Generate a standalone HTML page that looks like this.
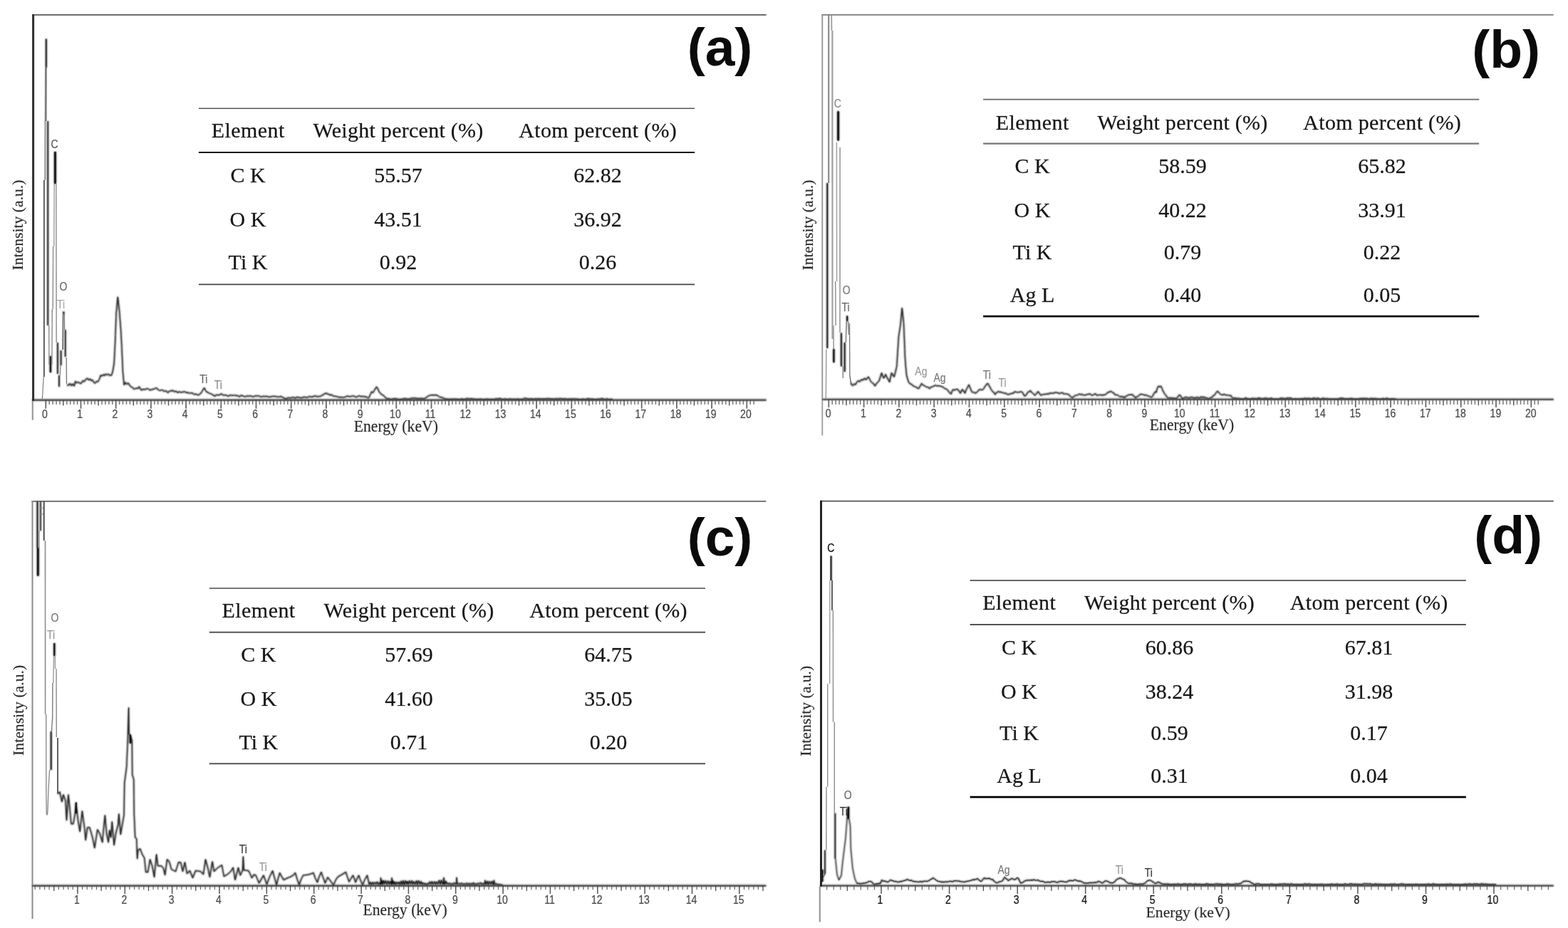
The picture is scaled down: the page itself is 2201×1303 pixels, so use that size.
<!DOCTYPE html>
<html lang="en">
<head>
<meta charset="utf-8">
<title>EDS spectra (a)-(d)</title>
<style>
html,body{margin:0;padding:0;background:#fff;}
body{width:2201px;height:1303px;overflow:hidden;position:relative;}
svg{display:block;position:absolute;left:0;top:0;}
text{white-space:pre;}
</style>
</head>
<body>
<svg width="2201" height="1303" viewBox="0 0 2201 1303">
<defs><filter id="soft" x="0" y="0" width="2201" height="1303" filterUnits="userSpaceOnUse"><feGaussianBlur stdDeviation="0.8"/></filter></defs>
<rect x="0" y="0" width="2201" height="1303" fill="#ffffff"/>
<g class="panel panel-a">
<g class="plot" filter="url(#soft)">
<g class="spectrum" fill="none" stroke-linejoin="round" stroke-linecap="butt">
<polyline points="64.8,95 64.8,54.5" stroke="#000" stroke-width="2"/>
<polyline points="67.2,170 67.2,457" stroke="#000" stroke-width="1.8"/>
<polyline points="70.9,500 70.9,523" stroke="#000" stroke-width="2.5"/>
<polyline points="77.4,213 77.4,258" stroke="#000" stroke-width="3"/>
<polyline points="80.9,481 80.9,525" stroke="#000" stroke-width="1.8"/>
<polyline points="83,527 83,543" stroke="#000" stroke-width="1.8"/>
<polyline points="85.6,513 85.6,492" stroke="#000" stroke-width="1.8"/>
<polyline points="88.6,440 89.3,438 90.2,441" stroke="#000" stroke-width="1.8"/>
<polyline points="91.7,463 91.7,501" stroke="#000" stroke-width="1.8"/>
</g>
<polyline class="spectrum-soft" points="93.8,540.4 94.9,540.9 96,541 98,538.5 100,541.5 102,539 103.1,540.9 104.2,542 105.8,535.3 106.9,536.8 108,537.5 110,536.5 112,538 113.2,538.6 114.3,537.9 116,534.5 118,536 120,533 121.3,532.4 122.7,531.1 124.5,533.5 126.5,532 128,534.5 130,533.5 131.5,536.5 132.6,537.8 133.7,537.9 135.5,535.5 137.5,536 139.6,532 141.3,526.9 143,528 145,526 146.5,527.5 148,525.2 150,526.5 152,525 154,527.5 155.2,526.5 156.5,526.9 158.2,521.8 160.2,510 161.6,481.3 163.2,439.1 165.3,417.1 167.5,435.7 169.7,464.4 170.8,484.7 172.5,523.5 174.2,540.4 176,537 178,539.5 180.1,537.9 182,541 183.5,542.9 184.8,543.4 186,544 187.3,545.8 188.6,546.3 189.8,545.9 191,545 193,545.5 194.2,544.8 195.3,542.9 197,546 198.7,548 199.8,546.7 201,546.5 202.5,546.7 204,547 205.2,545.9 206.5,545.5 207.7,546 208.8,546.3 209.9,547.3 211,548 212.5,546.8 214,547 215.5,546.1 217,546 218.4,545 219.8,544.6 220.9,546.4 222,547 223.5,548.1 225,548.5 226.5,547.5 228,547.5 229.5,548.9 231,549.5 232.2,548.7 233.5,549 234.7,550.4 235.8,551.4 236.9,549.9 238,549.5 239.2,548.5 240.5,549 242.6,548 243.8,549.6 245,550 246.2,549.3 247.5,549.5 249.4,551.4 250.7,550.3 252,550 253.5,551 255,550.5 256.5,550.7 258,549.8 259.5,550.1 261,551 262.2,551.7 263.5,551 264.9,551.7 266.2,552.2 267.6,552.1 269,551.5 270.5,552.1 272,553.5 273.5,553.9 275,553 276.5,554.1 278,554.7 279.2,554.5 280.5,553 281.8,552.3 283.1,550.5 285,547 286.8,544.6 288.5,548 289.9,550.5 290.9,550.4 292,551 294,552.5 295.3,552.6 296.6,553.1 297.8,553.5 299,555 300.4,555.2 301.7,556.4 302.9,554.8 304,554.5 305.5,554.5 307,555 308.6,554.2 310.1,553.1 311.6,553.3 313,555 314.5,555 316,554.5 317.4,554.9 318.9,555.5 320.3,556.4 321.6,555.9 323,554.5 324.5,555 326,555.5 327.5,555.1 328.9,555.1 330.4,555 331.9,555.8 333.5,555.3 335,556.5 336.7,556.9 338.3,555.1 340,555.5 341.7,556.3 343.3,556.9 345,556.8 346.7,555.7 348.3,556.6 350,555.8 352,556 354,556.7 356,557 358,555.9 360,555.7 362,556 364,555.9 366,557.3 368,557 370,556.3 372,556.9 374,556.2 376,557.1 378,557.4 380,557 382,556.6 384,556.4 386,556.5 388,556.8 390,557.4 392,557.2 393.8,556.5 395.6,557 396.8,558.1 398,558.5 399.5,559.3 401,559.8 402.5,559.6 404.2,558.4 406,558.5 408,558.9 410,558 412,557.9 414,559 416,558 418,557.5 420,558.2 422,558.5 424,558.6 426,557.5 428,557.5 430,558 432,557.9 434,556.5 436,557.1 438,557.5 440,556.5 442,556 444,556.3 446,557.2 448,556.4 450,556.5 451.5,555.1 453,555 454.2,553.5 455.5,553 456.6,552.7 457.8,551.8 458.9,553.1 460,553 461.5,553.5 463,555 464.5,554.1 466,554.5 467.2,556 468.5,556.1 470.2,556.4 472,556.5 474,557.1 476,558 478,557.6 480,558 482,557.9 484,557.5 485.5,557.2 487,556 489,556.4 491,557 493,556.4 495,556 497,556.1 499,557.5 501,557.4 503,556 505,555.8 507,557 508.5,556.6 510,556.3 511.5,557.2 513,557 514.5,557.2 516,558.5 517.1,558.5 518.2,557.8 520,553.5 521.6,550 522.8,551.2 524,551 526,547 527.2,545.3 528.5,543.2 530.5,546 532,550 533.7,551.8 534.9,553.3 536,554 537.9,554.9 539.8,557 540.9,557.9 542,559 544,560 546,559.5 548,560.4 550,560.2 552,559.7 554,559.7 556,559.5 558,560.4 560,560.4 562,560.3 564,560.4 566,559.7 568,559.5 570,559.6 572,560.2 574,560 576,559.6 578,559 580,559 582,559.1 584,559 586,559.8 588,559.3 590,560 592,559 594,559.9 596,559.5 597.5,558.7 599,557.5 600.9,556.3 602.8,555.2 604.5,554.9 606.3,554.5 608,555 609.7,554.5 611.3,555 613,554.4 614.2,555.8 615.5,556 617.5,557.8 619.2,557.7 621,558 622.5,559.2 624,559.5 625.5,560.2 627,560 628.9,560.3 630.7,560.3 632.6,560.4 634.4,560 636.3,560.4 638.1,559.9 640,560.3 642,560.2 644,560.4 646,560.4 648,559.8 650,560.4 652,560.2 654,560.1 656,559.2 658,559.9 660,559.8 662,559.5 664,560.2 666,559.9 668,560.4 670,560.3 672,560.4 674,559.9 676,560.4 678,560.4 680,560.3 682,560.4 684,560 686,560.4 688,560.4 690,560.3 692,560.4 694,560.4 696,559.8 698,559.8 700,559.7 702,559.2 704,560.3 706,560.4 708,559.9 710,560.2 712,560.3 714,560.4 716,559.6 718,560.4 720,560.2 722,560.3 724,560.4 726,560 728,560.2 730,560.4 732,560.2 734,560.3 736,559.2 738,559.3 740,559.8 742,559.8 744,560.1 746,559.5 748,560.3 750,560.2 752,559.4 754,560.1 756,559.8 758,559.6 760,560.3 762,559.7 764,559.9 766,559.7 768,559.6 770,559.4 772,559.9 774,559.8 776,560.1 778,560 780,559.8 782,559.5 784,560.4 786,559.2 788,559.9 790,559.7 792,560 794,559.6 796,560.4 798,560.1 800,560.3 802,559.6 804,560.4 806,559.6 808,560.3 810,560 812,560.3 814,560.4 816,560.4 818,560 820,560.4 822,560.3 824,559.9 826,559.5 828,560.2 830,560 832,560.1 834,560.4 836,560.4 838,560.3 840,559.9 842,560.4 844,559.4 846,559.6 848,560.3 850,560.4 852,559.8 854,560.4 856,560.4 858,560.2 860,560.4" fill="none" stroke-linejoin="round" stroke="#0a0a0a" stroke-width="1.5"/>
<g class="axis">
<line x1="45.1" y1="561.6" x2="1075.6" y2="561.6" stroke="#5a5a5a" stroke-width="2.6"/>
</g>
</g>
<g class="frame">
<line x1="45.1" y1="20.8" x2="1075.6" y2="20.8" stroke="#5a5a5a" stroke-width="1.8"/>
<line x1="46.6" y1="19.9" x2="46.6" y2="562.9" stroke="#2e2e2e" stroke-width="3.0"/>
<line x1="45.8" y1="562.9" x2="45.8" y2="589.7" stroke="#9a9a9a" stroke-width="2.2"/>
</g>
<g class="ticks"><path d="M69.2 561.6V568.1M74.1 561.6V568.1M79.1 561.6V568.1M84 561.6V568.1M93.8 561.6V568.1M98.7 561.6V568.1M103.7 561.6V568.1M108.6 561.6V568.1M118.4 561.6V568.1M123.3 561.6V568.1M128.3 561.6V568.1M133.2 561.6V568.1M143 561.6V568.1M147.9 561.6V568.1M152.9 561.6V568.1M157.8 561.6V568.1M167.6 561.6V568.1M172.5 561.6V568.1M177.5 561.6V568.1M182.4 561.6V568.1M192.2 561.6V568.1M197.1 561.6V568.1M202.1 561.6V568.1M207 561.6V568.1M216.8 561.6V568.1M221.7 561.6V568.1M226.7 561.6V568.1M231.6 561.6V568.1M241.4 561.6V568.1M246.3 561.6V568.1M251.3 561.6V568.1M256.2 561.6V568.1M266 561.6V568.1M270.9 561.6V568.1M275.9 561.6V568.1M280.8 561.6V568.1M290.6 561.6V568.1M295.5 561.6V568.1M300.5 561.6V568.1M305.4 561.6V568.1M315.2 561.6V568.1M320.1 561.6V568.1M325.1 561.6V568.1M330 561.6V568.1M339.8 561.6V568.1M344.7 561.6V568.1M349.7 561.6V568.1M354.6 561.6V568.1M364.4 561.6V568.1M369.3 561.6V568.1M374.3 561.6V568.1M379.2 561.6V568.1M389 561.6V568.1M393.9 561.6V568.1M398.9 561.6V568.1M403.8 561.6V568.1M413.6 561.6V568.1M418.5 561.6V568.1M423.5 561.6V568.1M428.4 561.6V568.1M438.2 561.6V568.1M443.1 561.6V568.1M448.1 561.6V568.1M453 561.6V568.1M462.8 561.6V568.1M467.7 561.6V568.1M472.7 561.6V568.1M477.6 561.6V568.1M487.4 561.6V568.1M492.3 561.6V568.1M497.3 561.6V568.1M502.2 561.6V568.1M512 561.6V568.1M516.9 561.6V568.1M521.9 561.6V568.1M526.8 561.6V568.1M536.6 561.6V568.1M541.5 561.6V568.1M546.5 561.6V568.1M551.4 561.6V568.1M561.2 561.6V568.1M566.1 561.6V568.1M571.1 561.6V568.1M576 561.6V568.1M585.8 561.6V568.1M590.7 561.6V568.1M595.7 561.6V568.1M600.6 561.6V568.1M610.4 561.6V568.1M615.3 561.6V568.1M620.3 561.6V568.1M625.2 561.6V568.1M635 561.6V568.1M639.9 561.6V568.1M644.9 561.6V568.1M649.8 561.6V568.1M659.6 561.6V568.1M664.5 561.6V568.1M669.5 561.6V568.1M674.4 561.6V568.1M684.2 561.6V568.1M689.1 561.6V568.1M694.1 561.6V568.1M699 561.6V568.1M708.8 561.6V568.1M713.7 561.6V568.1M718.7 561.6V568.1M723.6 561.6V568.1M733.4 561.6V568.1M738.3 561.6V568.1M743.3 561.6V568.1M748.2 561.6V568.1M758 561.6V568.1M762.9 561.6V568.1M767.9 561.6V568.1M772.8 561.6V568.1M782.6 561.6V568.1M787.5 561.6V568.1M792.5 561.6V568.1M797.4 561.6V568.1M807.2 561.6V568.1M812.1 561.6V568.1M817.1 561.6V568.1M822 561.6V568.1M831.8 561.6V568.1M836.7 561.6V568.1M841.7 561.6V568.1M846.6 561.6V568.1M856.4 561.6V568.1M861.3 561.6V568.1M866.3 561.6V568.1M871.2 561.6V568.1M881 561.6V568.1M885.9 561.6V568.1M890.9 561.6V568.1M895.8 561.6V568.1M905.6 561.6V568.1M910.5 561.6V568.1M915.5 561.6V568.1M920.4 561.6V568.1M930.2 561.6V568.1M935.1 561.6V568.1M940.1 561.6V568.1M945 561.6V568.1M954.8 561.6V568.1M959.7 561.6V568.1M964.7 561.6V568.1M969.6 561.6V568.1M979.4 561.6V568.1M984.3 561.6V568.1M989.3 561.6V568.1M994.2 561.6V568.1M1004 561.6V568.1M1008.9 561.6V568.1M1013.9 561.6V568.1M1018.8 561.6V568.1M1028.6 561.6V568.1M1033.5 561.6V568.1M1038.5 561.6V568.1M1043.4 561.6V568.1M1053.2 561.6V568.1M1058.1 561.6V568.1" stroke="#7a7a7a" stroke-width="1.5" fill="none"/><path d="M88.9 561.6V569.5M138.1 561.6V569.5M187.3 561.6V569.5M236.5 561.6V569.5M285.7 561.6V569.5M334.9 561.6V569.5M384.1 561.6V569.5M433.3 561.6V569.5M482.5 561.6V569.5M531.7 561.6V569.5M580.9 561.6V569.5M630.1 561.6V569.5M679.3 561.6V569.5M728.5 561.6V569.5M777.7 561.6V569.5M826.9 561.6V569.5M876.1 561.6V569.5M925.3 561.6V569.5M974.5 561.6V569.5M1023.7 561.6V569.5" stroke="#5a5a5a" stroke-width="1.5" fill="none"/><path d="M64.3 561.6V573.8M113.5 561.6V573.8M162.7 561.6V573.8M211.9 561.6V573.8M261.1 561.6V573.8M310.3 561.6V573.8M359.5 561.6V573.8M408.7 561.6V573.8M457.9 561.6V573.8M507.1 561.6V573.8M556.3 561.6V573.8M605.5 561.6V573.8M654.7 561.6V573.8M703.9 561.6V573.8M753.1 561.6V573.8M802.3 561.6V573.8M851.5 561.6V573.8M900.7 561.6V573.8M949.9 561.6V573.8M999.1 561.6V573.8M1048.3 561.6V573.8" stroke="#6a6a6a" stroke-width="1.8" fill="none"/></g>
<polyline points="59.4,560 60.3,545 61.2,529" fill="none" stroke-linejoin="round" stroke="#7d7d7d" stroke-width="1.2"/>
<polyline points="61.9,529 61.9,253" fill="none" stroke-linejoin="round" stroke="#3e3e3e" stroke-width="1.6"/>
<polyline points="63.3,253 63.5,170" fill="none" stroke-linejoin="round" stroke="#9c9c9c" stroke-width="2.2"/>
<polyline points="64.2,170 64.4,95" fill="none" stroke-linejoin="round" stroke="#7e7e7e" stroke-width="2.9"/>
<polyline points="64.8,95 64.8,54.5" fill="none" stroke-linejoin="round" stroke="#000" stroke-opacity="0.7" stroke-width="1.1"/>
<polyline points="67.2,170 67.2,457" fill="none" stroke-linejoin="round" stroke="#000" stroke-opacity="0.7" stroke-width="0.9"/>
<polyline points="68.7,457 68.9,512" fill="none" stroke-linejoin="round" stroke="#8c8c8c" stroke-width="1.4"/>
<polyline points="70.9,500 70.9,523" fill="none" stroke-linejoin="round" stroke="#000" stroke-opacity="0.7" stroke-width="1.6"/>
<polyline points="72.9,512 73.3,434" fill="none" stroke-linejoin="round" stroke="#8c8c8c" stroke-width="1.4"/>
<polyline points="74.2,434 74.6,346" fill="none" stroke-linejoin="round" stroke="#8c8c8c" stroke-width="1.4"/>
<polyline points="75.8,346 76.2,258" fill="none" stroke-linejoin="round" stroke="#9c9c9c" stroke-width="1.4"/>
<polyline points="77.4,213 77.4,258" fill="none" stroke-linejoin="round" stroke="#000" stroke-opacity="0.7" stroke-width="2.1"/>
<polyline points="78.8,258 79.2,481" fill="none" stroke-linejoin="round" stroke="#8c8c8c" stroke-width="1.4"/>
<polyline points="80.9,481 80.9,525" fill="none" stroke-linejoin="round" stroke="#000" stroke-opacity="0.7" stroke-width="0.9"/>
<polyline points="83,527 83,543" fill="none" stroke-linejoin="round" stroke="#000" stroke-opacity="0.7" stroke-width="0.9"/>
<polyline points="84.3,527 85,513" fill="none" stroke-linejoin="round" stroke="#7d7d7d" stroke-width="1.2"/>
<polyline points="85.6,513 85.6,492" fill="none" stroke-linejoin="round" stroke="#000" stroke-opacity="0.7" stroke-width="0.9"/>
<polyline points="88.1,491 88.6,440" fill="none" stroke-linejoin="round" stroke="#6d6d6d" stroke-width="1.8"/>
<polyline points="88.6,440 89.3,438 90.2,441" fill="none" stroke-linejoin="round" stroke="#000" stroke-opacity="0.4" stroke-width="0.9"/>
<polyline points="90.3,441 90.6,463" fill="none" stroke-linejoin="round" stroke="#7d7d7d" stroke-width="1.4"/>
<polyline points="91.7,463 91.7,501" fill="none" stroke-linejoin="round" stroke="#000" stroke-opacity="0.7" stroke-width="0.9"/>
<polyline points="93.2,502 93.5,539" fill="none" stroke-linejoin="round" stroke="#7d7d7d" stroke-width="1.4"/>
<polyline class="spectrum-core" points="93.8,540.4 94.9,540.9 96,541 98,538.5 100,541.5 102,539 103.1,540.9 104.2,542 105.8,535.3 106.9,536.8 108,537.5 110,536.5 112,538 113.2,538.6 114.3,537.9 116,534.5 118,536 120,533 121.3,532.4 122.7,531.1 124.5,533.5 126.5,532 128,534.5 130,533.5 131.5,536.5 132.6,537.8 133.7,537.9 135.5,535.5 137.5,536 139.6,532 141.3,526.9 143,528 145,526 146.5,527.5 148,525.2 150,526.5 152,525 154,527.5 155.2,526.5 156.5,526.9 158.2,521.8 160.2,510 161.6,481.3 163.2,439.1 165.3,417.1 167.5,435.7 169.7,464.4 170.8,484.7 172.5,523.5 174.2,540.4 176,537 178,539.5 180.1,537.9 182,541 183.5,542.9 184.8,543.4 186,544 187.3,545.8 188.6,546.3 189.8,545.9 191,545 193,545.5 194.2,544.8 195.3,542.9 197,546 198.7,548 199.8,546.7 201,546.5 202.5,546.7 204,547 205.2,545.9 206.5,545.5 207.7,546 208.8,546.3 209.9,547.3 211,548 212.5,546.8 214,547 215.5,546.1 217,546 218.4,545 219.8,544.6 220.9,546.4 222,547 223.5,548.1 225,548.5 226.5,547.5 228,547.5 229.5,548.9 231,549.5 232.2,548.7 233.5,549 234.7,550.4 235.8,551.4 236.9,549.9 238,549.5 239.2,548.5 240.5,549 242.6,548 243.8,549.6 245,550 246.2,549.3 247.5,549.5 249.4,551.4 250.7,550.3 252,550 253.5,551 255,550.5 256.5,550.7 258,549.8 259.5,550.1 261,551 262.2,551.7 263.5,551 264.9,551.7 266.2,552.2 267.6,552.1 269,551.5 270.5,552.1 272,553.5 273.5,553.9 275,553 276.5,554.1 278,554.7 279.2,554.5 280.5,553 281.8,552.3 283.1,550.5 285,547 286.8,544.6 288.5,548 289.9,550.5 290.9,550.4 292,551 294,552.5 295.3,552.6 296.6,553.1 297.8,553.5 299,555 300.4,555.2 301.7,556.4 302.9,554.8 304,554.5 305.5,554.5 307,555 308.6,554.2 310.1,553.1 311.6,553.3 313,555 314.5,555 316,554.5 317.4,554.9 318.9,555.5 320.3,556.4 321.6,555.9 323,554.5 324.5,555 326,555.5 327.5,555.1 328.9,555.1 330.4,555 331.9,555.8 333.5,555.3 335,556.5 336.7,556.9 338.3,555.1 340,555.5 341.7,556.3 343.3,556.9 345,556.8 346.7,555.7 348.3,556.6 350,555.8 352,556 354,556.7 356,557 358,555.9 360,555.7 362,556 364,555.9 366,557.3 368,557 370,556.3 372,556.9 374,556.2 376,557.1 378,557.4 380,557 382,556.6 384,556.4 386,556.5 388,556.8 390,557.4 392,557.2 393.8,556.5 395.6,557 396.8,558.1 398,558.5 399.5,559.3 401,559.8 402.5,559.6 404.2,558.4 406,558.5 408,558.9 410,558 412,557.9 414,559 416,558 418,557.5 420,558.2 422,558.5 424,558.6 426,557.5 428,557.5 430,558 432,557.9 434,556.5 436,557.1 438,557.5 440,556.5 442,556 444,556.3 446,557.2 448,556.4 450,556.5 451.5,555.1 453,555 454.2,553.5 455.5,553 456.6,552.7 457.8,551.8 458.9,553.1 460,553 461.5,553.5 463,555 464.5,554.1 466,554.5 467.2,556 468.5,556.1 470.2,556.4 472,556.5 474,557.1 476,558 478,557.6 480,558 482,557.9 484,557.5 485.5,557.2 487,556 489,556.4 491,557 493,556.4 495,556 497,556.1 499,557.5 501,557.4 503,556 505,555.8 507,557 508.5,556.6 510,556.3 511.5,557.2 513,557 514.5,557.2 516,558.5 517.1,558.5 518.2,557.8 520,553.5 521.6,550 522.8,551.2 524,551 526,547 527.2,545.3 528.5,543.2 530.5,546 532,550 533.7,551.8 534.9,553.3 536,554 537.9,554.9 539.8,557 540.9,557.9 542,559 544,560 546,559.5 548,560.4 550,560.2 552,559.7 554,559.7 556,559.5 558,560.4 560,560.4 562,560.3 564,560.4 566,559.7 568,559.5 570,559.6 572,560.2 574,560 576,559.6 578,559 580,559 582,559.1 584,559 586,559.8 588,559.3 590,560 592,559 594,559.9 596,559.5 597.5,558.7 599,557.5 600.9,556.3 602.8,555.2 604.5,554.9 606.3,554.5 608,555 609.7,554.5 611.3,555 613,554.4 614.2,555.8 615.5,556 617.5,557.8 619.2,557.7 621,558 622.5,559.2 624,559.5 625.5,560.2 627,560 628.9,560.3 630.7,560.3 632.6,560.4 634.4,560 636.3,560.4 638.1,559.9 640,560.3 642,560.2 644,560.4 646,560.4 648,559.8 650,560.4 652,560.2 654,560.1 656,559.2 658,559.9 660,559.8 662,559.5 664,560.2 666,559.9 668,560.4 670,560.3 672,560.4 674,559.9 676,560.4 678,560.4 680,560.3 682,560.4 684,560 686,560.4 688,560.4 690,560.3 692,560.4 694,560.4 696,559.8 698,559.8 700,559.7 702,559.2 704,560.3 706,560.4 708,559.9 710,560.2 712,560.3 714,560.4 716,559.6 718,560.4 720,560.2 722,560.3 724,560.4 726,560 728,560.2 730,560.4 732,560.2 734,560.3 736,559.2 738,559.3 740,559.8 742,559.8 744,560.1 746,559.5 748,560.3 750,560.2 752,559.4 754,560.1 756,559.8 758,559.6 760,560.3 762,559.7 764,559.9 766,559.7 768,559.6 770,559.4 772,559.9 774,559.8 776,560.1 778,560 780,559.8 782,559.5 784,560.4 786,559.2 788,559.9 790,559.7 792,560 794,559.6 796,560.4 798,560.1 800,560.3 802,559.6 804,560.4 806,559.6 808,560.3 810,560 812,560.3 814,560.4 816,560.4 818,560 820,560.4 822,560.3 824,559.9 826,559.5 828,560.2 830,560 832,560.1 834,560.4 836,560.4 838,560.3 840,559.9 842,560.4 844,559.4 846,559.6 848,560.3 850,560.4 852,559.8 854,560.4 856,560.4 858,560.2 860,560.4" fill="none" stroke-linejoin="round" stroke="#000" stroke-opacity="0.45" stroke-width="0.9"/>
<line x1="45.1" y1="561.9" x2="1075.6" y2="561.9" stroke="#222" stroke-width="1.0" stroke-opacity="0.8"/>
<g class="ticklabels" font-family='"Liberation Sans", "DejaVu Sans", sans-serif' font-size="14" fill="#4a4a4a" stroke="#4a4a4a" stroke-opacity="0.35" stroke-width="0.6" text-anchor="middle">
<text transform="translate(62.9 587.3) scale(1 1.15)">0</text>
<text transform="translate(112.1 587.3) scale(1 1.15)">1</text>
<text transform="translate(161.3 587.3) scale(1 1.15)">2</text>
<text transform="translate(210.5 587.3) scale(1 1.15)">3</text>
<text transform="translate(259.7 587.3) scale(1 1.15)">4</text>
<text transform="translate(308.9 587.3) scale(1 1.15)">5</text>
<text transform="translate(358.1 587.3) scale(1 1.15)">6</text>
<text transform="translate(407.3 587.3) scale(1 1.15)">7</text>
<text transform="translate(456.5 587.3) scale(1 1.15)">8</text>
<text transform="translate(505.7 587.3) scale(1 1.15)">9</text>
<text transform="translate(554.9 587.3) scale(1 1.15)">10</text>
<text transform="translate(604.1 587.3) scale(1 1.15)">11</text>
<text transform="translate(653.3 587.3) scale(1 1.15)">12</text>
<text transform="translate(702.5 587.3) scale(1 1.15)">13</text>
<text transform="translate(751.7 587.3) scale(1 1.15)">14</text>
<text transform="translate(800.9 587.3) scale(1 1.15)">15</text>
<text transform="translate(850.1 587.3) scale(1 1.15)">16</text>
<text transform="translate(899.3 587.3) scale(1 1.15)">17</text>
<text transform="translate(948.5 587.3) scale(1 1.15)">18</text>
<text transform="translate(997.7 587.3) scale(1 1.15)">19</text>
<text transform="translate(1046.9 587.3) scale(1 1.15)">20</text>
</g>
<g class="peaks" font-family='"Liberation Sans", "DejaVu Sans", sans-serif' font-size="14" text-anchor="middle" stroke-width="0.6" stroke-opacity="0.3">
<text transform="translate(76.6 208.4) scale(1 1.12)" fill="#555" stroke="#555">C</text>
<text transform="translate(89 408.4) scale(1 1.12)" fill="#666" stroke="#666">O</text>
<text transform="translate(85.6 432.9) scale(1 1.12)" fill="#aaa" stroke="#aaa">Ti</text>
<text transform="translate(285.7 537.6) scale(1 1.12)" fill="#666" stroke="#666">Ti</text>
<text transform="translate(306.4 545.5) scale(1 1.12)" fill="#888" stroke="#888">Ti</text>
</g>
<text class="xtitle" transform="translate(555.8 606) scale(1 1.07)" font-family='"Liberation Serif", "DejaVu Serif", serif' font-size="21.7" fill="#2a2a2a" stroke="#2a2a2a" stroke-opacity="0.35" stroke-width="0.5" text-anchor="middle">Energy (keV)</text>
<text class="ytitle" transform="translate(31.9 316) rotate(-90)" font-family='"Liberation Serif", "DejaVu Serif", serif' font-size="21.7" fill="#2a2a2a" stroke="#2a2a2a" stroke-opacity="0.35" stroke-width="0.5" text-anchor="middle">Intensity (a.u.)</text>
<text class="letter" x="1010.5" y="91.8" font-family='"Liberation Sans", "DejaVu Sans", sans-serif' font-size="75" font-weight="700" fill="#0a0a0a" text-anchor="middle">(a)</text>
<g class="table">
<line x1="278.9" y1="152.3" x2="975.1" y2="152.3" stroke="#555" stroke-width="1.6"/>
<line x1="278.9" y1="213.9" x2="975.1" y2="213.9" stroke="#111" stroke-width="2.0"/>
<line x1="278.9" y1="399.4" x2="975.1" y2="399.4" stroke="#444" stroke-width="1.6"/>
<g font-family='"Liberation Serif", "DejaVu Serif", serif' font-size="30" fill="#161616" stroke="#161616" stroke-width="0.4" stroke-opacity="0.55" text-anchor="middle">
<text x="348.2" y="193.4" letter-spacing="0.45">Element</text>
<text x="559.1" y="193.4" letter-spacing="0.27">Weight percent (%)</text>
<text x="839.2" y="193.4" letter-spacing="0.32">Atom percent (%)</text>
<text x="348" y="255.8">C K</text>
<text x="559" y="255.8">55.57</text>
<text x="839" y="255.8">62.82</text>
<text x="348" y="318.1">O K</text>
<text x="559" y="318.1">43.51</text>
<text x="839" y="318.1">36.92</text>
<text x="348" y="378.2">Ti K</text>
<text x="559" y="378.2">0.92</text>
<text x="839" y="378.2">0.26</text>
</g></g>
</g>
<g class="panel panel-b">
<g class="plot" filter="url(#soft)">
<g class="spectrum" fill="none" stroke-linejoin="round" stroke-linecap="butt">
<polyline points="1161.3,489 1161.3,257" stroke="#000" stroke-width="2"/>
<polyline points="1170.4,490 1170.4,509" stroke="#000" stroke-width="2.5"/>
<polyline points="1176.6,156.2 1176.6,197.4" stroke="#000" stroke-width="3"/>
<polyline points="1180.9,467.5 1180.9,514.4" stroke="#000" stroke-width="2"/>
<polyline points="1185.7,522 1185.7,481" stroke="#000" stroke-width="2"/>
<polyline points="1189.2,443.5 1189.2,451" stroke="#000" stroke-width="2.4"/>
</g>
<polyline class="spectrum-soft" points="1194.3,536.5 1195.2,540.2 1197,541.5 1198,540.2 1199,539 1200.8,540.2 1202.5,537 1203.5,535.6 1204.5,534.7 1205.5,534.7 1206.5,536 1207.5,535.4 1208.5,533.5 1209.8,532.8 1211,534 1212.3,532.5 1213.7,531 1214.8,532.8 1216,533 1217.6,530.3 1219.2,529.2 1221,533 1222.9,536.5 1224.2,537.4 1225.5,538 1227,540.2 1228.4,542 1229.7,539.1 1231,538 1232.5,536.1 1234,534.7 1235.8,529 1237.6,523.6 1239,528 1240.4,531 1241.8,528.6 1243.1,525.5 1245,530 1246.8,533 1248.7,536.5 1250,530 1251.4,523.6 1253,526 1254,527.5 1255.1,529.2 1257,522 1258.8,514.4 1260,495 1261.5,472.1 1263.8,457.3 1265,445 1266.2,432.5 1267.3,442 1268.5,453.7 1269.5,478 1270.4,501.5 1271.5,516 1272.6,527.3 1274,532 1275.4,536.5 1276.7,538.2 1278,539 1279.9,539.8 1281.8,542 1283.4,542.3 1285,543.5 1286.4,543.5 1287.8,545 1289.2,545.7 1290.3,544.7 1291.5,542 1292.7,540.4 1293.8,538.4 1294.9,540.2 1296,541 1297.2,541.3 1298.4,542 1300,543.2 1301.5,543.5 1303.2,543.8 1304.8,545.7 1306.4,544 1308,543 1309.4,542.7 1310.8,542.2 1312.2,541.1 1314.1,541.4 1316,542 1317.3,541.4 1318.7,541.9 1320,542.5 1321.4,542.4 1322.8,543 1324.2,543.9 1326.1,545.5 1328,546 1329.8,547.2 1331.5,549.5 1333.3,552 1335.2,553.1 1336.5,549 1338,546.7 1339.5,547.8 1341,547.5 1342.7,546.3 1344.4,546.7 1346,549 1347,550.4 1348.1,552.2 1349.5,549 1350.9,546.7 1352.5,549 1353.5,550.6 1354.6,552.2 1355.8,548.2 1357,546 1358.5,543 1360.1,540.2 1362,545 1363.8,549.4 1365.2,551 1366.5,551 1367.9,550.9 1369.3,552.2 1370.9,551 1372.5,549.5 1374.1,547.4 1375.7,546.7 1377.1,547.2 1378.5,547.5 1379.9,546.9 1381.3,544.8 1382.7,542.3 1384,541 1385.4,538.8 1386.8,538.4 1388.5,542 1389.5,543.1 1390.5,545.7 1392,547.9 1393.5,550 1395.2,551.1 1396.9,554 1398,552 1399,551.5 1400.2,550.4 1401.5,549.4 1403,550.7 1404.5,550.3 1406,551 1407.6,551.2 1409.1,552.1 1410.7,552.2 1412.1,552.1 1413.5,553.5 1414.8,553.9 1416.2,554 1417.8,552.7 1419.4,552.9 1421,552 1422.5,552.3 1424,550 1425.5,550.3 1427,550.6 1428.5,551 1430,551 1431.6,550.1 1433.1,550.1 1434.7,550.3 1436.5,553 1437.5,555.4 1438.6,556 1440.3,554.9 1442,552 1443.5,550 1444.9,549.9 1446.4,548.3 1448,551 1449.5,552 1451,553.1 1452.4,555.2 1453.7,554.1 1455,552.5 1456.3,550.4 1457.6,550 1459.5,553 1461.1,555.2 1463,554.1 1465,553.5 1466.7,553.7 1468.3,553.3 1470,553 1471.7,553.4 1473.3,551.9 1475,552.5 1476.7,551.8 1478.4,552.4 1480.1,551.5 1481.8,551 1483.2,551.2 1484.6,551.5 1486,552 1487.3,552.8 1488.7,551.8 1490,551.5 1491.3,551.1 1492.7,553.1 1494,553 1495.7,552.8 1497.3,553.2 1499,553.5 1500.5,554.2 1502,556 1503.5,557.2 1505,558.7 1506.5,557.3 1508,556.5 1509.5,555 1511,555 1512.7,554.7 1514.3,553.2 1516,553.5 1517.3,554.4 1518.7,553.3 1520,554.5 1521.7,554.9 1523.3,554.8 1525,554 1526.3,553.7 1527.7,553.7 1529,553 1530.5,553.3 1532.1,554.9 1533.6,555.2 1535.3,554 1537,553 1538.3,553.2 1539.7,555.2 1541,555 1542.7,554.6 1544.3,554.4 1546,554.5 1547.6,555.2 1549.3,554.2 1550.9,554.4 1552.5,553.5 1554,552 1555.5,550.4 1557.1,550.8 1558.6,549.2 1560.3,549.9 1562,551.5 1563.5,551.6 1564.9,554.3 1566.4,554.4 1568.2,554.3 1570,555.5 1571.3,556.7 1572.7,557.1 1574,556.5 1575.5,557.4 1577,557 1578.5,558.7 1580,556.5 1581.5,556 1583.5,554.6 1585.4,554.4 1586.9,554.1 1588.5,554.3 1590,554 1591.3,556.5 1592.7,556.9 1594,558.7 1595.3,557.1 1596.7,557 1598,556 1599.5,554.5 1601.1,553.5 1602.6,553.5 1604.3,554.1 1606,554.5 1607.3,555.2 1608.7,554.3 1610,555.5 1611.8,555.9 1613.5,556.5 1615,557.5 1616.5,557.8 1617.8,556.4 1619,554 1620.3,551.8 1621.6,550 1623,551 1624.5,545 1626,542.3 1627.7,543 1629.4,542.3 1630.5,543.8 1631.5,546.5 1632.6,549.2 1633.7,551 1635.1,553.5 1636.5,555 1638.2,557.6 1639.8,558.7 1641.5,558.9 1643.3,558.3 1645,559.3 1646.5,558.5 1648,559.5 1649.5,558.9 1651,559.6 1652.2,558.5 1653.5,557 1654.8,554.9 1656.2,554.4 1658,557 1659.6,559.6 1661.1,559.6 1662.5,558 1664,558 1665.3,557.4 1666.7,558.1 1668,559 1669.3,558.4 1670.7,558.1 1672,557.5 1673.3,557.8 1674.7,557.9 1676,559 1677.3,558.5 1678.7,558.8 1680,557.5 1681.3,557.9 1682.7,559 1684,558.5 1685.7,557.1 1687.3,558.4 1689,557 1690.3,558.2 1691.7,558.1 1693,558.5 1694.8,559.1 1696.5,559.6 1698.2,558.9 1700,558 1701.5,557.8 1703,555.3 1704.5,555.2 1705.5,553.9 1706.5,552 1707.7,550.7 1708.8,549.2 1710.2,550.2 1711.5,552 1713.2,553.6 1714.9,554.4 1716.3,554.7 1717.6,553.4 1719,554 1720.3,554.7 1721.7,554.6 1723,555 1724.3,555 1725.7,555.4 1727,555.2 1728,555.5 1729,557.5 1730.4,558.7 1731.9,559 1733.5,558.7 1735,559 1736.5,559.9 1738,558.8 1739.5,559.9 1741,559.6 1742.8,559.9 1744.6,559.7 1746.4,559.9 1748.2,558.5 1750,559.3 1751.7,559.6 1753.3,559.7 1755,559.9 1756.7,559.5 1758.3,558.9 1760,559.8 1761.9,559.2 1763.8,559.9 1765.6,559 1767.5,558.8 1769.4,559.3 1771.2,559.4 1773.1,559.5 1775,559.4 1776.9,558.5 1778.8,559.9 1780.6,559.2 1782.5,559.9 1784.4,558.7 1786.2,559.9 1788.1,559.9 1790,559.8 1791.9,559.9 1793.8,559.9 1795.6,559.9 1797.5,558.8 1799.4,559.2 1801.2,558.9 1803.1,559.9 1805,559.3 1806.9,558.8 1808.8,558.9 1810.6,558.7 1812.5,558.8 1814.4,559.9 1816.2,559.9 1818.1,559.5 1820,559.8 1821.8,559.9 1823.6,559.7 1825.5,559.8 1827.3,559.4 1829.1,559.9 1830.9,559.1 1832.7,559.1 1834.5,559.6 1836.4,559 1838.2,559.4 1840,559.5 1841.8,559.9 1843.6,558.7 1845.5,558.9 1847.3,559.9 1849.1,558.8 1850.9,559.2 1852.7,559.9 1854.5,559.9 1856.4,559.3 1858.2,559 1860,559.9 1861.8,559.4 1863.6,559.4 1865.5,559.9 1867.3,559.9 1869.1,559.9 1870.9,559.9 1872.7,559.9 1874.5,559.9 1876.4,559.9 1878.2,559.9 1880,559.5 1881.8,558.8 1883.6,559.2 1885.5,559.1 1887.3,559.8 1889.1,559.7 1890.9,559.4 1892.7,559.9 1894.5,559.6 1896.4,559.3 1898.2,559.4 1900,559.9 1901.9,559.8 1903.8,559.9 1905.6,559.9 1907.5,559.7 1909.4,559.2 1911.2,559.6 1913.1,559.4 1915,559.1 1916.9,559.8 1918.8,559.1 1920.6,559.9 1922.5,559.9 1924.4,559 1926.2,559.9 1928.1,559.3 1930,559.6 1931.9,559.5 1933.8,559.9 1935.6,559.9 1937.5,559.9 1939.4,559.9 1941.2,559.2 1943.1,559.9 1945,559.5 1946.9,558.9 1948.8,559.9 1950.6,559.8 1952.5,559.9 1954.4,559.6 1956.2,559.9 1958.1,559.9 1960,560" fill="none" stroke-linejoin="round" stroke="#0a0a0a" stroke-width="1.5"/>
<g class="axis">
<line x1="1154.3" y1="560.7" x2="2180.8" y2="560.7" stroke="#5a5a5a" stroke-width="2.6"/>
</g>
</g>
<g class="frame">
<line x1="1153.4" y1="20.9" x2="2180.8" y2="20.9" stroke="#4a4a4a" stroke-width="1.3"/>
<line x1="1154.3" y1="20.2" x2="1154.3" y2="562" stroke="#909090" stroke-width="1.8"/>
<line x1="1154.3" y1="562" x2="1154.3" y2="611.5" stroke="#999" stroke-width="1.8"/>
</g>
<g class="ticks"><path d="M1168.2 560.7V568.1M1173.2 560.7V568.1M1178.1 560.7V568.1M1183 560.7V568.1M1192.9 560.7V568.1M1197.8 560.7V568.1M1202.7 560.7V568.1M1207.7 560.7V568.1M1217.5 560.7V568.1M1222.5 560.7V568.1M1227.4 560.7V568.1M1232.3 560.7V568.1M1242.2 560.7V568.1M1247.1 560.7V568.1M1252 560.7V568.1M1257 560.7V568.1M1266.8 560.7V568.1M1271.8 560.7V568.1M1276.7 560.7V568.1M1281.6 560.7V568.1M1291.5 560.7V568.1M1296.4 560.7V568.1M1301.3 560.7V568.1M1306.3 560.7V568.1M1316.1 560.7V568.1M1321.1 560.7V568.1M1326 560.7V568.1M1330.9 560.7V568.1M1340.8 560.7V568.1M1345.7 560.7V568.1M1350.6 560.7V568.1M1355.6 560.7V568.1M1365.4 560.7V568.1M1370.4 560.7V568.1M1375.3 560.7V568.1M1380.2 560.7V568.1M1390.1 560.7V568.1M1395 560.7V568.1M1399.9 560.7V568.1M1404.9 560.7V568.1M1414.7 560.7V568.1M1419.7 560.7V568.1M1424.6 560.7V568.1M1429.5 560.7V568.1M1439.4 560.7V568.1M1444.3 560.7V568.1M1449.2 560.7V568.1M1454.2 560.7V568.1M1464 560.7V568.1M1469 560.7V568.1M1473.9 560.7V568.1M1478.8 560.7V568.1M1488.7 560.7V568.1M1493.6 560.7V568.1M1498.5 560.7V568.1M1503.5 560.7V568.1M1513.3 560.7V568.1M1518.3 560.7V568.1M1523.2 560.7V568.1M1528.1 560.7V568.1M1538 560.7V568.1M1542.9 560.7V568.1M1547.8 560.7V568.1M1552.8 560.7V568.1M1562.6 560.7V568.1M1567.6 560.7V568.1M1572.5 560.7V568.1M1577.4 560.7V568.1M1587.3 560.7V568.1M1592.2 560.7V568.1M1597.1 560.7V568.1M1602.1 560.7V568.1M1611.9 560.7V568.1M1616.9 560.7V568.1M1621.8 560.7V568.1M1626.7 560.7V568.1M1636.6 560.7V568.1M1641.5 560.7V568.1M1646.4 560.7V568.1M1651.4 560.7V568.1M1661.2 560.7V568.1M1666.2 560.7V568.1M1671.1 560.7V568.1M1676 560.7V568.1M1685.9 560.7V568.1M1690.8 560.7V568.1M1695.7 560.7V568.1M1700.7 560.7V568.1M1710.5 560.7V568.1M1715.5 560.7V568.1M1720.4 560.7V568.1M1725.3 560.7V568.1M1735.2 560.7V568.1M1740.1 560.7V568.1M1745 560.7V568.1M1750 560.7V568.1M1759.8 560.7V568.1M1764.8 560.7V568.1M1769.7 560.7V568.1M1774.6 560.7V568.1M1784.5 560.7V568.1M1789.4 560.7V568.1M1794.3 560.7V568.1M1799.3 560.7V568.1M1809.1 560.7V568.1M1814.1 560.7V568.1M1819 560.7V568.1M1823.9 560.7V568.1M1833.8 560.7V568.1M1838.7 560.7V568.1M1843.6 560.7V568.1M1848.6 560.7V568.1M1858.4 560.7V568.1M1863.4 560.7V568.1M1868.3 560.7V568.1M1873.2 560.7V568.1M1883.1 560.7V568.1M1888 560.7V568.1M1892.9 560.7V568.1M1897.9 560.7V568.1M1907.7 560.7V568.1M1912.7 560.7V568.1M1917.6 560.7V568.1M1922.5 560.7V568.1M1932.4 560.7V568.1M1937.3 560.7V568.1M1942.2 560.7V568.1M1947.2 560.7V568.1M1957 560.7V568.1M1962 560.7V568.1M1966.9 560.7V568.1M1971.8 560.7V568.1M1981.7 560.7V568.1M1986.6 560.7V568.1M1991.5 560.7V568.1M1996.5 560.7V568.1M2006.3 560.7V568.1M2011.3 560.7V568.1M2016.2 560.7V568.1M2021.1 560.7V568.1M2031 560.7V568.1M2035.9 560.7V568.1M2040.8 560.7V568.1M2045.8 560.7V568.1M2055.6 560.7V568.1M2060.6 560.7V568.1M2065.5 560.7V568.1M2070.4 560.7V568.1M2080.3 560.7V568.1M2085.2 560.7V568.1M2090.1 560.7V568.1M2095.1 560.7V568.1M2104.9 560.7V568.1M2109.9 560.7V568.1M2114.8 560.7V568.1M2119.7 560.7V568.1M2129.6 560.7V568.1M2134.5 560.7V568.1M2139.4 560.7V568.1M2144.4 560.7V568.1M2154.2 560.7V568.1M2159.2 560.7V568.1" stroke="#7a7a7a" stroke-width="1.5" fill="none"/><path d="M1188 560.7V569.3M1237.2 560.7V569.3M1286.5 560.7V569.3M1335.8 560.7V569.3M1385.1 560.7V569.3M1434.4 560.7V569.3M1483.8 560.7V569.3M1533 560.7V569.3M1582.3 560.7V569.3M1631.7 560.7V569.3M1680.9 560.7V569.3M1730.2 560.7V569.3M1779.5 560.7V569.3M1828.8 560.7V569.3M1878.2 560.7V569.3M1927.4 560.7V569.3M1976.8 560.7V569.3M2026 560.7V569.3M2075.3 560.7V569.3M2124.7 560.7V569.3" stroke="#5a5a5a" stroke-width="1.5" fill="none"/><path d="M1163.3 560.7V572M1212.6 560.7V572M1261.9 560.7V572M1311.2 560.7V572M1360.5 560.7V572M1409.8 560.7V572M1459.1 560.7V572M1508.4 560.7V572M1557.7 560.7V572M1607 560.7V572M1656.3 560.7V572M1705.6 560.7V572M1754.9 560.7V572M1804.2 560.7V572M1853.5 560.7V572M1902.8 560.7V572M1952.1 560.7V572M2001.4 560.7V572M2050.7 560.7V572M2100 560.7V572M2149.3 560.7V572" stroke="#6a6a6a" stroke-width="1.8" fill="none"/></g>
<polyline points="1159.3,559.6 1159.9,490.5" fill="none" stroke-linejoin="round" stroke="#8c8c8c" stroke-width="1.2"/>
<polyline points="1161.3,489 1161.3,257" fill="none" stroke-linejoin="round" stroke="#000" stroke-opacity="0.7" stroke-width="1.1"/>
<polyline points="1163.2,257 1163.2,21" fill="none" stroke-linejoin="round" stroke="#8c8c8c" stroke-width="2.2"/>
<polyline points="1167.2,21 1167.4,43" fill="none" stroke-linejoin="round" stroke="#9c9c9c" stroke-width="1.8"/>
<polyline points="1168.4,43 1168.5,476" fill="none" stroke-linejoin="round" stroke="#a1a1a1" stroke-width="2.2"/>
<polyline points="1170,457 1170.2,490" fill="none" stroke-linejoin="round" stroke="#8c8c8c" stroke-width="1.4"/>
<polyline points="1170.4,490 1170.4,509" fill="none" stroke-linejoin="round" stroke="#000" stroke-opacity="0.7" stroke-width="1.6"/>
<polyline points="1173.1,457 1172.7,395" fill="none" stroke-linejoin="round" stroke="#8c8c8c" stroke-width="1.4"/>
<polyline points="1174.6,395 1174.4,200" fill="none" stroke-linejoin="round" stroke="#9c9c9c" stroke-width="1.4"/>
<polyline points="1176.6,156.2 1176.6,197.4" fill="none" stroke-linejoin="round" stroke="#000" stroke-opacity="0.7" stroke-width="2.1"/>
<polyline points="1179.1,207 1179,467" fill="none" stroke-linejoin="round" stroke="#8c8c8c" stroke-width="1.4"/>
<polyline points="1180.9,467.5 1180.9,514.4" fill="none" stroke-linejoin="round" stroke="#000" stroke-opacity="0.7" stroke-width="1.1"/>
<polyline points="1183.3,514 1183.3,531" fill="none" stroke-linejoin="round" stroke="#8c8c8c" stroke-width="1.6"/>
<polyline points="1185.7,522 1185.7,481" fill="none" stroke-linejoin="round" stroke="#000" stroke-opacity="0.7" stroke-width="1.1"/>
<polyline points="1187.3,481 1188.2,451" fill="none" stroke-linejoin="round" stroke="#8c8c8c" stroke-width="1.8"/>
<polyline points="1189.2,443.5 1189.2,451" fill="none" stroke-linejoin="round" stroke="#000" stroke-opacity="0.7" stroke-width="1.5"/>
<polyline points="1190.5,451 1191.6,470" fill="none" stroke-linejoin="round" stroke="#8c8c8c" stroke-width="1.8"/>
<polyline points="1192.5,454 1192.8,527" fill="none" stroke-linejoin="round" stroke="#7d7d7d" stroke-width="1.4"/>
<polyline points="1192.8,527 1194.3,536.5" fill="none" stroke-linejoin="round" stroke="#4e4e4e" stroke-width="1.2"/>
<polyline class="spectrum-core" points="1194.3,536.5 1195.2,540.2 1197,541.5 1198,540.2 1199,539 1200.8,540.2 1202.5,537 1203.5,535.6 1204.5,534.7 1205.5,534.7 1206.5,536 1207.5,535.4 1208.5,533.5 1209.8,532.8 1211,534 1212.3,532.5 1213.7,531 1214.8,532.8 1216,533 1217.6,530.3 1219.2,529.2 1221,533 1222.9,536.5 1224.2,537.4 1225.5,538 1227,540.2 1228.4,542 1229.7,539.1 1231,538 1232.5,536.1 1234,534.7 1235.8,529 1237.6,523.6 1239,528 1240.4,531 1241.8,528.6 1243.1,525.5 1245,530 1246.8,533 1248.7,536.5 1250,530 1251.4,523.6 1253,526 1254,527.5 1255.1,529.2 1257,522 1258.8,514.4 1260,495 1261.5,472.1 1263.8,457.3 1265,445 1266.2,432.5 1267.3,442 1268.5,453.7 1269.5,478 1270.4,501.5 1271.5,516 1272.6,527.3 1274,532 1275.4,536.5 1276.7,538.2 1278,539 1279.9,539.8 1281.8,542 1283.4,542.3 1285,543.5 1286.4,543.5 1287.8,545 1289.2,545.7 1290.3,544.7 1291.5,542 1292.7,540.4 1293.8,538.4 1294.9,540.2 1296,541 1297.2,541.3 1298.4,542 1300,543.2 1301.5,543.5 1303.2,543.8 1304.8,545.7 1306.4,544 1308,543 1309.4,542.7 1310.8,542.2 1312.2,541.1 1314.1,541.4 1316,542 1317.3,541.4 1318.7,541.9 1320,542.5 1321.4,542.4 1322.8,543 1324.2,543.9 1326.1,545.5 1328,546 1329.8,547.2 1331.5,549.5 1333.3,552 1335.2,553.1 1336.5,549 1338,546.7 1339.5,547.8 1341,547.5 1342.7,546.3 1344.4,546.7 1346,549 1347,550.4 1348.1,552.2 1349.5,549 1350.9,546.7 1352.5,549 1353.5,550.6 1354.6,552.2 1355.8,548.2 1357,546 1358.5,543 1360.1,540.2 1362,545 1363.8,549.4 1365.2,551 1366.5,551 1367.9,550.9 1369.3,552.2 1370.9,551 1372.5,549.5 1374.1,547.4 1375.7,546.7 1377.1,547.2 1378.5,547.5 1379.9,546.9 1381.3,544.8 1382.7,542.3 1384,541 1385.4,538.8 1386.8,538.4 1388.5,542 1389.5,543.1 1390.5,545.7 1392,547.9 1393.5,550 1395.2,551.1 1396.9,554 1398,552 1399,551.5 1400.2,550.4 1401.5,549.4 1403,550.7 1404.5,550.3 1406,551 1407.6,551.2 1409.1,552.1 1410.7,552.2 1412.1,552.1 1413.5,553.5 1414.8,553.9 1416.2,554 1417.8,552.7 1419.4,552.9 1421,552 1422.5,552.3 1424,550 1425.5,550.3 1427,550.6 1428.5,551 1430,551 1431.6,550.1 1433.1,550.1 1434.7,550.3 1436.5,553 1437.5,555.4 1438.6,556 1440.3,554.9 1442,552 1443.5,550 1444.9,549.9 1446.4,548.3 1448,551 1449.5,552 1451,553.1 1452.4,555.2 1453.7,554.1 1455,552.5 1456.3,550.4 1457.6,550 1459.5,553 1461.1,555.2 1463,554.1 1465,553.5 1466.7,553.7 1468.3,553.3 1470,553 1471.7,553.4 1473.3,551.9 1475,552.5 1476.7,551.8 1478.4,552.4 1480.1,551.5 1481.8,551 1483.2,551.2 1484.6,551.5 1486,552 1487.3,552.8 1488.7,551.8 1490,551.5 1491.3,551.1 1492.7,553.1 1494,553 1495.7,552.8 1497.3,553.2 1499,553.5 1500.5,554.2 1502,556 1503.5,557.2 1505,558.7 1506.5,557.3 1508,556.5 1509.5,555 1511,555 1512.7,554.7 1514.3,553.2 1516,553.5 1517.3,554.4 1518.7,553.3 1520,554.5 1521.7,554.9 1523.3,554.8 1525,554 1526.3,553.7 1527.7,553.7 1529,553 1530.5,553.3 1532.1,554.9 1533.6,555.2 1535.3,554 1537,553 1538.3,553.2 1539.7,555.2 1541,555 1542.7,554.6 1544.3,554.4 1546,554.5 1547.6,555.2 1549.3,554.2 1550.9,554.4 1552.5,553.5 1554,552 1555.5,550.4 1557.1,550.8 1558.6,549.2 1560.3,549.9 1562,551.5 1563.5,551.6 1564.9,554.3 1566.4,554.4 1568.2,554.3 1570,555.5 1571.3,556.7 1572.7,557.1 1574,556.5 1575.5,557.4 1577,557 1578.5,558.7 1580,556.5 1581.5,556 1583.5,554.6 1585.4,554.4 1586.9,554.1 1588.5,554.3 1590,554 1591.3,556.5 1592.7,556.9 1594,558.7 1595.3,557.1 1596.7,557 1598,556 1599.5,554.5 1601.1,553.5 1602.6,553.5 1604.3,554.1 1606,554.5 1607.3,555.2 1608.7,554.3 1610,555.5 1611.8,555.9 1613.5,556.5 1615,557.5 1616.5,557.8 1617.8,556.4 1619,554 1620.3,551.8 1621.6,550 1623,551 1624.5,545 1626,542.3 1627.7,543 1629.4,542.3 1630.5,543.8 1631.5,546.5 1632.6,549.2 1633.7,551 1635.1,553.5 1636.5,555 1638.2,557.6 1639.8,558.7 1641.5,558.9 1643.3,558.3 1645,559.3 1646.5,558.5 1648,559.5 1649.5,558.9 1651,559.6 1652.2,558.5 1653.5,557 1654.8,554.9 1656.2,554.4 1658,557 1659.6,559.6 1661.1,559.6 1662.5,558 1664,558 1665.3,557.4 1666.7,558.1 1668,559 1669.3,558.4 1670.7,558.1 1672,557.5 1673.3,557.8 1674.7,557.9 1676,559 1677.3,558.5 1678.7,558.8 1680,557.5 1681.3,557.9 1682.7,559 1684,558.5 1685.7,557.1 1687.3,558.4 1689,557 1690.3,558.2 1691.7,558.1 1693,558.5 1694.8,559.1 1696.5,559.6 1698.2,558.9 1700,558 1701.5,557.8 1703,555.3 1704.5,555.2 1705.5,553.9 1706.5,552 1707.7,550.7 1708.8,549.2 1710.2,550.2 1711.5,552 1713.2,553.6 1714.9,554.4 1716.3,554.7 1717.6,553.4 1719,554 1720.3,554.7 1721.7,554.6 1723,555 1724.3,555 1725.7,555.4 1727,555.2 1728,555.5 1729,557.5 1730.4,558.7 1731.9,559 1733.5,558.7 1735,559 1736.5,559.9 1738,558.8 1739.5,559.9 1741,559.6 1742.8,559.9 1744.6,559.7 1746.4,559.9 1748.2,558.5 1750,559.3 1751.7,559.6 1753.3,559.7 1755,559.9 1756.7,559.5 1758.3,558.9 1760,559.8 1761.9,559.2 1763.8,559.9 1765.6,559 1767.5,558.8 1769.4,559.3 1771.2,559.4 1773.1,559.5 1775,559.4 1776.9,558.5 1778.8,559.9 1780.6,559.2 1782.5,559.9 1784.4,558.7 1786.2,559.9 1788.1,559.9 1790,559.8 1791.9,559.9 1793.8,559.9 1795.6,559.9 1797.5,558.8 1799.4,559.2 1801.2,558.9 1803.1,559.9 1805,559.3 1806.9,558.8 1808.8,558.9 1810.6,558.7 1812.5,558.8 1814.4,559.9 1816.2,559.9 1818.1,559.5 1820,559.8 1821.8,559.9 1823.6,559.7 1825.5,559.8 1827.3,559.4 1829.1,559.9 1830.9,559.1 1832.7,559.1 1834.5,559.6 1836.4,559 1838.2,559.4 1840,559.5 1841.8,559.9 1843.6,558.7 1845.5,558.9 1847.3,559.9 1849.1,558.8 1850.9,559.2 1852.7,559.9 1854.5,559.9 1856.4,559.3 1858.2,559 1860,559.9 1861.8,559.4 1863.6,559.4 1865.5,559.9 1867.3,559.9 1869.1,559.9 1870.9,559.9 1872.7,559.9 1874.5,559.9 1876.4,559.9 1878.2,559.9 1880,559.5 1881.8,558.8 1883.6,559.2 1885.5,559.1 1887.3,559.8 1889.1,559.7 1890.9,559.4 1892.7,559.9 1894.5,559.6 1896.4,559.3 1898.2,559.4 1900,559.9 1901.9,559.8 1903.8,559.9 1905.6,559.9 1907.5,559.7 1909.4,559.2 1911.2,559.6 1913.1,559.4 1915,559.1 1916.9,559.8 1918.8,559.1 1920.6,559.9 1922.5,559.9 1924.4,559 1926.2,559.9 1928.1,559.3 1930,559.6 1931.9,559.5 1933.8,559.9 1935.6,559.9 1937.5,559.9 1939.4,559.9 1941.2,559.2 1943.1,559.9 1945,559.5 1946.9,558.9 1948.8,559.9 1950.6,559.8 1952.5,559.9 1954.4,559.6 1956.2,559.9 1958.1,559.9 1960,560" fill="none" stroke-linejoin="round" stroke="#000" stroke-opacity="0.45" stroke-width="0.9"/>
<line x1="1154.3" y1="561" x2="2180.8" y2="561" stroke="#222" stroke-width="1.0" stroke-opacity="0.8"/>
<g class="ticklabels" font-family='"Liberation Sans", "DejaVu Sans", sans-serif' font-size="14" fill="#4a4a4a" stroke="#4a4a4a" stroke-opacity="0.35" stroke-width="0.6" text-anchor="middle">
<text transform="translate(1162.7 586.4) scale(1 1.15)">0</text>
<text transform="translate(1212 586.4) scale(1 1.15)">1</text>
<text transform="translate(1261.3 586.4) scale(1 1.15)">2</text>
<text transform="translate(1310.6 586.4) scale(1 1.15)">3</text>
<text transform="translate(1359.9 586.4) scale(1 1.15)">4</text>
<text transform="translate(1409.2 586.4) scale(1 1.15)">5</text>
<text transform="translate(1458.5 586.4) scale(1 1.15)">6</text>
<text transform="translate(1507.8 586.4) scale(1 1.15)">7</text>
<text transform="translate(1557.1 586.4) scale(1 1.15)">8</text>
<text transform="translate(1606.4 586.4) scale(1 1.15)">9</text>
<text transform="translate(1655.7 586.4) scale(1 1.15)">10</text>
<text transform="translate(1705 586.4) scale(1 1.15)">11</text>
<text transform="translate(1754.3 586.4) scale(1 1.15)">12</text>
<text transform="translate(1803.6 586.4) scale(1 1.15)">13</text>
<text transform="translate(1852.9 586.4) scale(1 1.15)">14</text>
<text transform="translate(1902.2 586.4) scale(1 1.15)">15</text>
<text transform="translate(1951.5 586.4) scale(1 1.15)">16</text>
<text transform="translate(2000.8 586.4) scale(1 1.15)">17</text>
<text transform="translate(2050.1 586.4) scale(1 1.15)">18</text>
<text transform="translate(2099.4 586.4) scale(1 1.15)">19</text>
<text transform="translate(2148.7 586.4) scale(1 1.15)">20</text>
</g>
<g class="peaks" font-family='"Liberation Sans", "DejaVu Sans", sans-serif' font-size="14" text-anchor="middle" stroke-width="0.6" stroke-opacity="0.3">
<text transform="translate(1175.7 150.9) scale(1 1.12)" fill="#888" stroke="#888">C</text>
<text transform="translate(1188.3 413) scale(1 1.12)" fill="#777" stroke="#777">O</text>
<text transform="translate(1187 437) scale(1 1.12)" fill="#666" stroke="#666">Ti</text>
<text transform="translate(1292.9 527.4) scale(1 1.12)" fill="#999" stroke="#999">Ag</text>
<text transform="translate(1319 535.7) scale(1 1.12)" fill="#777" stroke="#777">Ag</text>
<text transform="translate(1385.3 532) scale(1 1.12)" fill="#777" stroke="#777">Ti</text>
<text transform="translate(1407 543.1) scale(1 1.12)" fill="#999" stroke="#999">Ti</text>
</g>
<text class="xtitle" transform="translate(1673 604) scale(1 1.07)" font-family='"Liberation Serif", "DejaVu Serif", serif' font-size="21.7" fill="#2a2a2a" stroke="#2a2a2a" stroke-opacity="0.35" stroke-width="0.5" text-anchor="middle">Energy (keV)</text>
<text class="ytitle" transform="translate(1140.9 316) rotate(-90)" font-family='"Liberation Serif", "DejaVu Serif", serif' font-size="21.7" fill="#2a2a2a" stroke="#2a2a2a" stroke-opacity="0.35" stroke-width="0.5" text-anchor="middle">Intensity (a.u.)</text>
<text class="letter" x="2114.2" y="95" font-family='"Liberation Sans", "DejaVu Sans", sans-serif' font-size="75" font-weight="700" fill="#0a0a0a" text-anchor="middle">(b)</text>
<g class="table">
<line x1="1380.1" y1="139.6" x2="2076.2" y2="139.6" stroke="#666" stroke-width="1.6"/>
<line x1="1380.1" y1="201.7" x2="2076.2" y2="201.7" stroke="#777" stroke-width="2.2"/>
<line x1="1380.1" y1="444.1" x2="2076.2" y2="444.1" stroke="#111" stroke-width="2.6"/>
<g font-family='"Liberation Serif", "DejaVu Serif", serif' font-size="30" fill="#161616" stroke="#161616" stroke-width="0.4" stroke-opacity="0.55" text-anchor="middle">
<text x="1449.2" y="181.6" letter-spacing="0.45">Element</text>
<text x="1660.1" y="181.6" letter-spacing="0.27">Weight percent (%)</text>
<text x="1940.2" y="181.6" letter-spacing="0.32">Atom percent (%)</text>
<text x="1449" y="242.7">C K</text>
<text x="1660" y="242.7">58.59</text>
<text x="1940" y="242.7">65.82</text>
<text x="1449" y="304.8">O K</text>
<text x="1660" y="304.8">40.22</text>
<text x="1940" y="304.8">33.91</text>
<text x="1449" y="364">Ti K</text>
<text x="1660" y="364">0.79</text>
<text x="1940" y="364">0.22</text>
<text x="1449" y="424">Ag L</text>
<text x="1660" y="424">0.40</text>
<text x="1940" y="424">0.05</text>
</g></g>
</g>
<g class="panel panel-c">
<g class="plot" filter="url(#soft)">
<g class="spectrum" fill="none" stroke-linejoin="round" stroke-linecap="butt">
<polyline points="52.5,704 52.5,769" stroke="#000" stroke-width="2"/>
<polyline points="53.3,769 53.3,808.6" stroke="#000" stroke-width="3"/>
<polyline points="57,704 57,745.3" stroke="#000" stroke-width="1.5"/>
<polyline points="71.7,1081 71.7,1027" stroke="#000" stroke-width="2"/>
<polyline points="76.3,903 76.3,921" stroke="#000" stroke-width="2.5"/>
<polyline points="182.9,1031.7 182.9,1043.8" stroke="#000" stroke-width="2.6"/>
<polyline points="106.8,1127 106.8,1142" stroke="#000" stroke-width="2.4"/>
</g>
<polyline class="spectrum-soft" points="80.9,1114.9 83.9,1111.9 86.9,1125.8 88.9,1115.8 91.9,1123.8 93.5,1151.8 95.9,1115.8 97.9,1133.8 99.9,1156.8 102.9,1156.8 105.4,1141.8 106.8,1126.8 108.5,1142.8 109.8,1153.8 112.2,1167.7 115.4,1138.8 118.8,1163.8 120.2,1179.7 122.8,1161.8 125.8,1161.8 129.8,1175.7 132.8,1190.7 136.8,1164.8 139.8,1169.8 143.8,1182.7 144.8,1169.8 147.4,1144.8 149.8,1171.7 152.2,1182.7 153.8,1165.8 155.7,1175.7 157.3,1153.8 160.1,1186.7 162.7,1169.8 165.7,1157.8 166.9,1142.8 169.3,1171.7 171.7,1157.8 174.1,1143.8 174.7,1099.9 177.7,1076.9 179.3,1040 180.6,993.7 181,1030 182.9,1031.7 185.3,1040 185.7,1087.9 187.7,1093.9 188.3,1143.8 189.7,1175.7 191.7,1177.7 192.7,1205.7 193.7,1193.7 196.7,1191.7 199.7,1199.7 202.7,1204.7 204.7,1224.6 207.6,1224.6 210.6,1206.7 213.6,1215.7 216.6,1231.6 219.6,1199.7 221.6,1215.7 226.6,1215.7 229.6,1219.6 231.6,1228.6 234.6,1206.7 237.6,1209.7 240.6,1220.6 246.6,1223.6 250.6,1210.7 253.6,1210.7 256.5,1223.6 259.5,1210.7 262.5,1226.6 266.5,1222.6 270.5,1232.6 274.5,1222.6 281.5,1223.6 285.5,1227.6 288.5,1206.7 291.5,1217.7 294.5,1231.6 298.1,1209.7 300.5,1223.6 305.4,1218.6 311.4,1214.7 314.4,1230.6 319.4,1227.6 323.5,1224 327.3,1218.2 330,1235.5 334.5,1218.2 337.3,1229 340.6,1222 341.4,1202.7 342.3,1221.8 345.5,1222 349.1,1222.7 353.6,1232.7 356.5,1228 359.1,1229 363.6,1240 366.5,1235 370,1229 372.5,1236 374.5,1241.8 378.5,1231 382.7,1222.7 385.5,1233 388.2,1242.7 390.5,1233 392.7,1225.5 395.5,1231 398.2,1235.5 403,1233 408,1231 411.5,1229 414.5,1225.5 417,1234 420,1242.7 422.5,1235 425.5,1229 430,1228.5 435,1227.5 440,1225.5 442.5,1233 445.5,1239 448,1231 450.9,1224.5 453.5,1232 456.4,1240 458.5,1235 460,1231.8 464,1237 468.2,1242.7 471.5,1235 474.5,1231 478.2,1229 481.5,1227 485.5,1224.5 487.5,1231 490,1238.2 493,1233 495.5,1229 497.5,1234 499.1,1239 501.5,1233 503.6,1229 506,1236 509.1,1242.7 512,1235 515.4,1229 517,1236 518.2,1241.8 520,1238.6 521.6,1242.2 523.1,1238.7 524.7,1241.3 526.3,1238.9 528,1241.2 529.5,1238 531.2,1241.9 532.5,1239.5 533.7,1241 534.3,1241.9 534.5,1232.5 535.3,1241 536,1236.2 537.2,1241.7 538.4,1236.2 539.8,1241.1 541.3,1236.6 543.1,1241.7 544.7,1236.7 546.4,1241.6 547.8,1237.5 549.2,1241 549.7,1242.1 550,1232.5 550.8,1241 551.4,1236.4 552.8,1241.4 554,1238.1 555.5,1242.1 557,1238.4 558.7,1241.1 560.1,1238.4 561.6,1242.3 563.1,1237 564.7,1242 566.1,1236.4 567.6,1242.3 569.3,1236.5 570.7,1241.2 571.9,1237.6 573.2,1241.8 574.7,1236.6 576.5,1241.3 578.1,1236.5 579.6,1241.4 581,1237.9 582.8,1241.5 584.6,1236.6 586,1242.1 587.7,1236.5 589.6,1241.4 591,1237.5 592.4,1241.5 593.7,1239.6 595.3,1241.4 596.9,1240.1 598.4,1242.3 599.9,1240.4 601.7,1241.3 603.1,1238 604.8,1241.4 606.2,1237.7 608,1241.3 609.9,1237.9 611.5,1241.6 612.8,1238.2 614.7,1241.4 616.3,1235.9 618.1,1241.8 619.5,1235.8 621.2,1241.2 622.2,1241 622.6,1236.4 623,1232.3 623.8,1241 624.4,1241.8 625.8,1237 627.1,1241.1 628.5,1239.8 629.8,1241.3 631.2,1240 632.5,1241.5 634.3,1240.7 636,1241.9 637.6,1239.3 638.8,1241.1 640.2,1241 640.7,1240.8 641,1232 641.8,1241 642.5,1241.1 644.2,1240.5 645.9,1241.5 647.8,1239.8 649.4,1242 651.2,1240.5 652.9,1242.1 654.7,1239.9 656.4,1242.2 658.2,1240 660,1242.1 661.6,1240.3 663,1241.8 664.7,1239.4 666.3,1242.3 668.1,1240.5 669.6,1242 671.2,1240 673,1241.2 674.7,1239.3 676.3,1241.7 677.7,1240.4 679.3,1241.8 680.2,1241 681,1236 681.1,1237.3 681.8,1241 682.3,1241.5 684,1237.2 685.3,1242.2 687,1237.6 688.8,1241.5 690.5,1237.2 692,1242.1 692.7,1241 693.5,1236 693.8,1238.3 694.3,1241 695.3,1241.8 696.7,1240.5 698.2,1242.1 700,1241.4 703,1242 706,1242.4" fill="none" stroke-linejoin="round" stroke="#0a0a0a" stroke-width="1.5"/>
<g class="axis">
<line x1="45" y1="1243.6" x2="1075.4" y2="1243.6" stroke="#5a5a5a" stroke-width="2.6"/>
</g>
</g>
<g class="frame">
<line x1="44.5" y1="703.8" x2="1075.4" y2="703.8" stroke="#666" stroke-width="1.8"/>
<line x1="45.5" y1="702.9" x2="45.5" y2="1244.9" stroke="#8a8a8a" stroke-width="2.0"/>
<line x1="45.5" y1="1244.9" x2="45.5" y2="1290" stroke="#8a8a8a" stroke-width="2.0"/>
</g>
<g class="ticks"><path d="M49.2 1243.6V1249.3M55.9 1243.6V1249.3M62.5 1243.6V1249.3M69.1 1243.6V1249.3M82.4 1243.6V1249.3M89 1243.6V1249.3M95.7 1243.6V1249.3M102.3 1243.6V1249.3M115.6 1243.6V1249.3M122.2 1243.6V1249.3M128.9 1243.6V1249.3M135.5 1243.6V1249.3M148.8 1243.6V1249.3M155.4 1243.6V1249.3M162 1243.6V1249.3M168.7 1243.6V1249.3M181.9 1243.6V1249.3M188.6 1243.6V1249.3M195.2 1243.6V1249.3M201.8 1243.6V1249.3M215.1 1243.6V1249.3M221.7 1243.6V1249.3M228.4 1243.6V1249.3M235 1243.6V1249.3M248.3 1243.6V1249.3M254.9 1243.6V1249.3M261.6 1243.6V1249.3M268.2 1243.6V1249.3M281.5 1243.6V1249.3M288.1 1243.6V1249.3M294.7 1243.6V1249.3M301.4 1243.6V1249.3M314.6 1243.6V1249.3M321.3 1243.6V1249.3M327.9 1243.6V1249.3M334.5 1243.6V1249.3M347.8 1243.6V1249.3M354.4 1243.6V1249.3M361.1 1243.6V1249.3M367.7 1243.6V1249.3M381 1243.6V1249.3M387.6 1243.6V1249.3M394.3 1243.6V1249.3M400.9 1243.6V1249.3M414.2 1243.6V1249.3M420.8 1243.6V1249.3M427.4 1243.6V1249.3M434.1 1243.6V1249.3M447.3 1243.6V1249.3M454 1243.6V1249.3M460.6 1243.6V1249.3M467.2 1243.6V1249.3M480.5 1243.6V1249.3M487.1 1243.6V1249.3M493.8 1243.6V1249.3M500.4 1243.6V1249.3M513.7 1243.6V1249.3M520.3 1243.6V1249.3M527 1243.6V1249.3M533.6 1243.6V1249.3M546.9 1243.6V1249.3M553.5 1243.6V1249.3M560.1 1243.6V1249.3M566.8 1243.6V1249.3M580 1243.6V1249.3M586.7 1243.6V1249.3M593.3 1243.6V1249.3M599.9 1243.6V1249.3M613.2 1243.6V1249.3M619.8 1243.6V1249.3M626.5 1243.6V1249.3M633.1 1243.6V1249.3M646.4 1243.6V1249.3M653 1243.6V1249.3M659.7 1243.6V1249.3M666.3 1243.6V1249.3M679.6 1243.6V1249.3M686.2 1243.6V1249.3M692.8 1243.6V1249.3M699.5 1243.6V1249.3M712.7 1243.6V1249.3M719.4 1243.6V1249.3M726 1243.6V1249.3M732.6 1243.6V1249.3M745.9 1243.6V1249.3M752.5 1243.6V1249.3M759.2 1243.6V1249.3M765.8 1243.6V1249.3M779.1 1243.6V1249.3M785.7 1243.6V1249.3M792.4 1243.6V1249.3M799 1243.6V1249.3M812.3 1243.6V1249.3M818.9 1243.6V1249.3M825.5 1243.6V1249.3M832.2 1243.6V1249.3M845.4 1243.6V1249.3M852.1 1243.6V1249.3M858.7 1243.6V1249.3M865.3 1243.6V1249.3M878.6 1243.6V1249.3M885.2 1243.6V1249.3M891.9 1243.6V1249.3M898.5 1243.6V1249.3M911.8 1243.6V1249.3M918.4 1243.6V1249.3M925.1 1243.6V1249.3M931.7 1243.6V1249.3M945 1243.6V1249.3M951.6 1243.6V1249.3M958.2 1243.6V1249.3M964.9 1243.6V1249.3M978.1 1243.6V1249.3M984.8 1243.6V1249.3M991.4 1243.6V1249.3M998 1243.6V1249.3M1011.3 1243.6V1249.3M1017.9 1243.6V1249.3M1024.6 1243.6V1249.3M1031.2 1243.6V1249.3M1044.5 1243.6V1249.3M1051.1 1243.6V1249.3M1057.8 1243.6V1249.3M1064.4 1243.6V1249.3" stroke="#6a6a6a" stroke-width="1.2" fill="none"/><path d="M75.8 1243.6V1251M142.1 1243.6V1251M208.5 1243.6V1251M274.8 1243.6V1251M341.2 1243.6V1251M407.5 1243.6V1251M473.9 1243.6V1251M540.2 1243.6V1251M606.6 1243.6V1251M672.9 1243.6V1251M739.3 1243.6V1251M805.6 1243.6V1251M872 1243.6V1251M938.3 1243.6V1251M1004.7 1243.6V1251M1071 1243.6V1251" stroke="#444" stroke-width="1.2" fill="none"/><path d="M108.9 1243.6V1255M175.3 1243.6V1255M241.6 1243.6V1255M308 1243.6V1255M374.3 1243.6V1255M440.7 1243.6V1255M507.1 1243.6V1255M573.4 1243.6V1255M639.7 1243.6V1255M706.1 1243.6V1255M772.4 1243.6V1255M838.8 1243.6V1255M905.1 1243.6V1255M971.5 1243.6V1255M1037.8 1243.6V1255" stroke="#555" stroke-width="1.5" fill="none"/></g>
<polyline points="52.5,704 52.5,769" fill="none" stroke-linejoin="round" stroke="#000" stroke-opacity="0.7" stroke-width="1.1"/>
<polyline points="53.3,769 53.3,808.6" fill="none" stroke-linejoin="round" stroke="#000" stroke-opacity="0.7" stroke-width="2.1"/>
<polyline points="54.8,745 54.8,770" fill="none" stroke-linejoin="round" stroke="#8c8c8c" stroke-width="1.4"/>
<polyline points="57,704 57,745.3" fill="none" stroke-linejoin="round" stroke="#000" stroke-opacity="0.7" stroke-width="0.9"/>
<polyline points="57,713 62,713" fill="none" stroke-linejoin="round" stroke="#9c9c9c" stroke-width="1.1"/>
<polyline points="57,722 62,722" fill="none" stroke-linejoin="round" stroke="#8c8c8c" stroke-width="1.1"/>
<polyline points="61.7,704 61.7,759" fill="none" stroke-linejoin="round" stroke="#3e3e3e" stroke-width="1.8"/>
<polyline points="63.5,759 63.6,1003" fill="none" stroke-linejoin="round" stroke="#8c8c8c" stroke-width="1.6"/>
<polyline points="64.7,1003 64.9,1116 65.3,1143 66.3,1144 67,1138 67.9,1110 69.6,1081" fill="none" stroke-linejoin="round" stroke="#8c8c8c" stroke-width="1.4"/>
<polyline points="71.7,1081 71.7,1027" fill="none" stroke-linejoin="round" stroke="#000" stroke-opacity="0.7" stroke-width="1.1"/>
<polyline points="72.4,1027 73.7,1007 73.9,959" fill="none" stroke-linejoin="round" stroke="#7d7d7d" stroke-width="1.4"/>
<polyline points="74.8,959 75.6,921" fill="none" stroke-linejoin="round" stroke="#9c9c9c" stroke-width="1.4"/>
<polyline points="76.3,903 76.3,921" fill="none" stroke-linejoin="round" stroke="#000" stroke-opacity="0.7" stroke-width="1.6"/>
<polyline points="77.3,921 77.5,939" fill="none" stroke-linejoin="round" stroke="#9c9c9c" stroke-width="1.4"/>
<polyline points="79,939 79.3,1035" fill="none" stroke-linejoin="round" stroke="#8c8c8c" stroke-width="1.4"/>
<polyline points="81,1036 81,1114" fill="none" stroke-linejoin="round" stroke="#4e4e4e" stroke-width="1.8"/>
<polyline points="182.9,1031.7 182.9,1043.8" fill="none" stroke-linejoin="round" stroke="#000" stroke-opacity="0.7" stroke-width="1.7"/>
<polyline points="106.8,1127 106.8,1142" fill="none" stroke-linejoin="round" stroke="#000" stroke-opacity="0.7" stroke-width="1.5"/>
<polyline class="spectrum-core" points="80.9,1114.9 83.9,1111.9 86.9,1125.8 88.9,1115.8 91.9,1123.8 93.5,1151.8 95.9,1115.8 97.9,1133.8 99.9,1156.8 102.9,1156.8 105.4,1141.8 106.8,1126.8 108.5,1142.8 109.8,1153.8 112.2,1167.7 115.4,1138.8 118.8,1163.8 120.2,1179.7 122.8,1161.8 125.8,1161.8 129.8,1175.7 132.8,1190.7 136.8,1164.8 139.8,1169.8 143.8,1182.7 144.8,1169.8 147.4,1144.8 149.8,1171.7 152.2,1182.7 153.8,1165.8 155.7,1175.7 157.3,1153.8 160.1,1186.7 162.7,1169.8 165.7,1157.8 166.9,1142.8 169.3,1171.7 171.7,1157.8 174.1,1143.8 174.7,1099.9 177.7,1076.9 179.3,1040 180.6,993.7 181,1030 182.9,1031.7 185.3,1040 185.7,1087.9 187.7,1093.9 188.3,1143.8 189.7,1175.7 191.7,1177.7 192.7,1205.7 193.7,1193.7 196.7,1191.7 199.7,1199.7 202.7,1204.7 204.7,1224.6 207.6,1224.6 210.6,1206.7 213.6,1215.7 216.6,1231.6 219.6,1199.7 221.6,1215.7 226.6,1215.7 229.6,1219.6 231.6,1228.6 234.6,1206.7 237.6,1209.7 240.6,1220.6 246.6,1223.6 250.6,1210.7 253.6,1210.7 256.5,1223.6 259.5,1210.7 262.5,1226.6 266.5,1222.6 270.5,1232.6 274.5,1222.6 281.5,1223.6 285.5,1227.6 288.5,1206.7 291.5,1217.7 294.5,1231.6 298.1,1209.7 300.5,1223.6 305.4,1218.6 311.4,1214.7 314.4,1230.6 319.4,1227.6 323.5,1224 327.3,1218.2 330,1235.5 334.5,1218.2 337.3,1229 340.6,1222 341.4,1202.7 342.3,1221.8 345.5,1222 349.1,1222.7 353.6,1232.7 356.5,1228 359.1,1229 363.6,1240 366.5,1235 370,1229 372.5,1236 374.5,1241.8 378.5,1231 382.7,1222.7 385.5,1233 388.2,1242.7 390.5,1233 392.7,1225.5 395.5,1231 398.2,1235.5 403,1233 408,1231 411.5,1229 414.5,1225.5 417,1234 420,1242.7 422.5,1235 425.5,1229 430,1228.5 435,1227.5 440,1225.5 442.5,1233 445.5,1239 448,1231 450.9,1224.5 453.5,1232 456.4,1240 458.5,1235 460,1231.8 464,1237 468.2,1242.7 471.5,1235 474.5,1231 478.2,1229 481.5,1227 485.5,1224.5 487.5,1231 490,1238.2 493,1233 495.5,1229 497.5,1234 499.1,1239 501.5,1233 503.6,1229 506,1236 509.1,1242.7 512,1235 515.4,1229 517,1236 518.2,1241.8 520,1238.6 521.6,1242.2 523.1,1238.7 524.7,1241.3 526.3,1238.9 528,1241.2 529.5,1238 531.2,1241.9 532.5,1239.5 533.7,1241 534.3,1241.9 534.5,1232.5 535.3,1241 536,1236.2 537.2,1241.7 538.4,1236.2 539.8,1241.1 541.3,1236.6 543.1,1241.7 544.7,1236.7 546.4,1241.6 547.8,1237.5 549.2,1241 549.7,1242.1 550,1232.5 550.8,1241 551.4,1236.4 552.8,1241.4 554,1238.1 555.5,1242.1 557,1238.4 558.7,1241.1 560.1,1238.4 561.6,1242.3 563.1,1237 564.7,1242 566.1,1236.4 567.6,1242.3 569.3,1236.5 570.7,1241.2 571.9,1237.6 573.2,1241.8 574.7,1236.6 576.5,1241.3 578.1,1236.5 579.6,1241.4 581,1237.9 582.8,1241.5 584.6,1236.6 586,1242.1 587.7,1236.5 589.6,1241.4 591,1237.5 592.4,1241.5 593.7,1239.6 595.3,1241.4 596.9,1240.1 598.4,1242.3 599.9,1240.4 601.7,1241.3 603.1,1238 604.8,1241.4 606.2,1237.7 608,1241.3 609.9,1237.9 611.5,1241.6 612.8,1238.2 614.7,1241.4 616.3,1235.9 618.1,1241.8 619.5,1235.8 621.2,1241.2 622.2,1241 622.6,1236.4 623,1232.3 623.8,1241 624.4,1241.8 625.8,1237 627.1,1241.1 628.5,1239.8 629.8,1241.3 631.2,1240 632.5,1241.5 634.3,1240.7 636,1241.9 637.6,1239.3 638.8,1241.1 640.2,1241 640.7,1240.8 641,1232 641.8,1241 642.5,1241.1 644.2,1240.5 645.9,1241.5 647.8,1239.8 649.4,1242 651.2,1240.5 652.9,1242.1 654.7,1239.9 656.4,1242.2 658.2,1240 660,1242.1 661.6,1240.3 663,1241.8 664.7,1239.4 666.3,1242.3 668.1,1240.5 669.6,1242 671.2,1240 673,1241.2 674.7,1239.3 676.3,1241.7 677.7,1240.4 679.3,1241.8 680.2,1241 681,1236 681.1,1237.3 681.8,1241 682.3,1241.5 684,1237.2 685.3,1242.2 687,1237.6 688.8,1241.5 690.5,1237.2 692,1242.1 692.7,1241 693.5,1236 693.8,1238.3 694.3,1241 695.3,1241.8 696.7,1240.5 698.2,1242.1 700,1241.4 703,1242 706,1242.4" fill="none" stroke-linejoin="round" stroke="#000" stroke-opacity="0.45" stroke-width="0.9"/>
<line x1="45" y1="1243.9" x2="1075.4" y2="1243.9" stroke="#222" stroke-width="1.0" stroke-opacity="0.8"/>
<g class="ticklabels" font-family='"Liberation Sans", "DejaVu Sans", sans-serif' font-size="14" fill="#4a4a4a" stroke="#4a4a4a" stroke-opacity="0.35" stroke-width="0.6" text-anchor="middle">
<text transform="translate(107.9 1269.4) scale(1 1.15)">1</text>
<text transform="translate(174.3 1269.4) scale(1 1.15)">2</text>
<text transform="translate(240.6 1269.4) scale(1 1.15)">3</text>
<text transform="translate(307 1269.4) scale(1 1.15)">4</text>
<text transform="translate(373.4 1269.4) scale(1 1.15)">5</text>
<text transform="translate(439.7 1269.4) scale(1 1.15)">6</text>
<text transform="translate(506 1269.4) scale(1 1.15)">7</text>
<text transform="translate(572.4 1269.4) scale(1 1.15)">8</text>
<text transform="translate(638.8 1269.4) scale(1 1.15)">9</text>
<text transform="translate(705.1 1269.4) scale(1 1.15)">10</text>
<text transform="translate(771.4 1269.4) scale(1 1.15)">11</text>
<text transform="translate(837.8 1269.4) scale(1 1.15)">12</text>
<text transform="translate(904.1 1269.4) scale(1 1.15)">13</text>
<text transform="translate(970.5 1269.4) scale(1 1.15)">14</text>
<text transform="translate(1036.8 1269.4) scale(1 1.15)">15</text>
</g>
<g class="peaks" font-family='"Liberation Sans", "DejaVu Sans", sans-serif' font-size="14" text-anchor="middle" stroke-width="0.6" stroke-opacity="0.3">
<text transform="translate(77 873.2) scale(1 1.12)" fill="#777" stroke="#777">O</text>
<text transform="translate(71.5 897.4) scale(1 1.12)" fill="#999" stroke="#999">Ti</text>
<text transform="translate(341.4 1197.8) scale(1 1.12)" fill="#333" stroke="#333">Ti</text>
<text transform="translate(369.4 1222.8) scale(1 1.12)" fill="#999" stroke="#999">Ti</text>
</g>
<text class="xtitle" transform="translate(568.6 1285.4) scale(1 1.04)" font-family='"Liberation Serif", "DejaVu Serif", serif' font-size="21.7" fill="#2a2a2a" stroke="#2a2a2a" stroke-opacity="0.35" stroke-width="0.5" text-anchor="middle">Energy (keV)</text>
<text class="ytitle" transform="translate(33.4 997.4) rotate(-90)" font-family='"Liberation Serif", "DejaVu Serif", serif' font-size="21.7" fill="#2a2a2a" stroke="#2a2a2a" stroke-opacity="0.35" stroke-width="0.5" text-anchor="middle">Intensity (a.u.)</text>
<text class="letter" x="1010.5" y="779.5" font-family='"Liberation Sans", "DejaVu Sans", sans-serif' font-size="75" font-weight="700" fill="#0a0a0a" text-anchor="middle">(c)</text>
<g class="table">
<line x1="293.8" y1="826" x2="990" y2="826" stroke="#777" stroke-width="2.2"/>
<line x1="293.8" y1="887.8" x2="990" y2="887.8" stroke="#555" stroke-width="2.0"/>
<line x1="293.8" y1="1072.2" x2="990" y2="1072.2" stroke="#555" stroke-width="2.0"/>
<g font-family='"Liberation Serif", "DejaVu Serif", serif' font-size="30" fill="#161616" stroke="#161616" stroke-width="0.4" stroke-opacity="0.55" text-anchor="middle">
<text x="363.1" y="867.2" letter-spacing="0.45">Element</text>
<text x="574" y="867.2" letter-spacing="0.27">Weight percent (%)</text>
<text x="854.1" y="867.2" letter-spacing="0.32">Atom percent (%)</text>
<text x="362.9" y="929.2">C K</text>
<text x="573.9" y="929.2">57.69</text>
<text x="853.9" y="929.2">64.75</text>
<text x="362.9" y="991.4">O K</text>
<text x="573.9" y="991.4">41.60</text>
<text x="853.9" y="991.4">35.05</text>
<text x="362.9" y="1051.7">Ti K</text>
<text x="573.9" y="1051.7">0.71</text>
<text x="853.9" y="1051.7">0.20</text>
</g></g>
</g>
<g class="panel panel-d">
<g class="plot" filter="url(#soft)">
<g class="spectrum" fill="none" stroke-linejoin="round" stroke-linecap="butt">
<polyline points="1154.3,1221 1154.3,1238" stroke="#000" stroke-width="2.5"/>
<polyline points="1158,1227.6 1158,1193.7" stroke="#000" stroke-width="1.8"/>
<polyline points="1172.3,1141.8 1172.3,1205.7" stroke="#000" stroke-width="1.8"/>
<polyline points="1172.8,1205.7 1174.9,1227.6 1177.5,1235.6 1180.9,1229.6 1182.9,1209.7 1184.9,1193.7 1186.9,1177.7 1188.9,1151.8 1190.3,1135" stroke="#000" stroke-width="1.2"/>
<polyline points="1190.9,1132.8 1190.9,1149.8" stroke="#000" stroke-width="2.8"/>
<polyline points="1192,1150 1193.5,1159.8 1194.3,1191.7 1196.9,1219.6 1199.9,1233.6 1202.9,1240.6" stroke="#000" stroke-width="1.2"/>
</g>
<polyline class="spectrum-soft" points="1202.9,1240.6 1205.2,1240.1 1207.5,1240.7 1209.8,1240.6 1211.5,1240 1213.3,1240.1 1215,1239.5 1217.3,1239.1 1219.5,1237.5 1221.8,1237.6 1223.4,1237.9 1225,1240 1226.4,1241.4 1227.8,1241.6 1229.9,1240.9 1232,1241 1233.9,1240.3 1235.8,1240.6 1237.8,1235.6 1239.7,1237.2 1241.5,1237 1243.7,1237.7 1245.8,1238.6 1247.8,1237.7 1249.8,1235.6 1251.9,1236.3 1254,1237 1255.9,1237.8 1257.8,1237.4 1259.7,1238.6 1261.8,1238.3 1264,1237.5 1265.7,1237.8 1267.3,1236.9 1269,1236.5 1271.3,1236 1273.7,1234.6 1275.8,1235.9 1278,1236.5 1279.7,1236 1281.3,1237.6 1283,1237.5 1285.2,1238 1287.5,1237.9 1289.7,1238.6 1291.8,1237.4 1293.9,1238.5 1296,1237.5 1297.9,1237.2 1299.8,1237.4 1301.7,1237.5 1303.6,1236.6 1305,1235.9 1306.5,1234.5 1308,1234.3 1309.6,1232.6 1311.3,1233.6 1313,1235 1315.3,1236.8 1317.6,1237.6 1319.4,1237.6 1321.2,1238.7 1323,1238 1325.2,1238.9 1327.4,1237.7 1329.6,1238.6 1331.4,1237.6 1333.2,1237.4 1335,1237.5 1337.2,1238 1339.4,1236.8 1341.6,1236.6 1343.4,1237.1 1345.2,1236.8 1347,1237.5 1349.2,1237.9 1351.3,1238 1353.5,1238.6 1355.2,1237.8 1357,1237.5 1359.2,1237.2 1361.5,1236.6 1363.8,1236 1366,1235 1368.2,1235.3 1370.3,1234.4 1372.5,1233.6 1373.8,1235.6 1375,1236 1376.2,1237.4 1377.5,1237.6 1379.5,1235 1381.5,1232.6 1383.3,1233.8 1385.2,1233.5 1387,1233.5 1389.2,1233.3 1391.3,1234.9 1393.5,1234.6 1394.8,1236.9 1396,1237.5 1397.8,1239.3 1399.5,1239.6 1401.2,1238.9 1403,1238 1405.2,1237.7 1407.4,1236.6 1408.9,1233.6 1410.4,1231.6 1411.7,1233.4 1413,1234 1414.2,1235.4 1415.4,1236.6 1416.7,1235.4 1418,1235 1419.7,1233.5 1421.4,1233.6 1422.7,1234.9 1424,1235 1425.7,1234.7 1427.3,1232.7 1428.7,1232.6 1430,1234 1431.3,1237.5 1432.7,1240 1434.3,1239.3 1436,1239 1438,1237.1 1440,1236.5 1442.3,1235.8 1444.7,1236.3 1447,1235.5 1449,1236.3 1451,1234.9 1453,1236.1 1455,1236 1457.3,1235.7 1459.7,1237.4 1462,1237.5 1464,1237.4 1466,1238.7 1468,1239.1 1470,1238.5 1472,1238.4 1474,1239.1 1476,1237.8 1478,1238 1480.3,1237.6 1482.7,1238.8 1485,1239 1486.7,1237.7 1488.3,1237.5 1490,1237.5 1492.3,1237.7 1494.7,1238.4 1497,1238.5 1499.3,1237.2 1501.7,1236.3 1504,1236.5 1506,1236.8 1508,1235.5 1510,1235.5 1512,1236.8 1514,1237.2 1516,1237 1518,1237.8 1520,1238.9 1522,1240 1524,1239.9 1526,1240 1528,1239.8 1530,1239.5 1532.3,1239.4 1534.7,1239.4 1537,1239 1538.8,1239.3 1540.7,1238 1542.5,1237.5 1544.8,1238.6 1547,1240 1549,1238.9 1551,1237 1552.7,1236.9 1554.3,1237.3 1556,1238 1557.7,1239.5 1559.3,1239.4 1561,1240 1563,1239.1 1565,1238 1566.8,1235.4 1568.5,1234.5 1570.6,1233.4 1572.7,1232.7 1574.6,1233.7 1576.5,1234.5 1578.2,1235.1 1580,1237.5 1581.8,1239 1583.5,1240 1585.7,1240.6 1587.8,1239.9 1590,1241 1592,1241.4 1594,1241.2 1596,1241.7 1598,1241.5 1600.3,1241.1 1602.7,1241.5 1605,1241 1607,1240.2 1609,1238.5 1610.5,1236.6 1612,1236.5 1613.7,1235.7 1615.4,1236.4 1617.2,1237.8 1619,1238.5 1620.8,1240.3 1622.5,1240.5 1624.2,1239.1 1626,1238.5 1627.5,1239.2 1629,1240 1631,1240.9 1633,1241.5 1635,1241.2 1637,1241.4 1639,1241.3 1641,1241.5 1643,1241.8 1645,1241.8 1647.1,1241.4 1649.3,1241.5 1651.4,1241.8 1653.6,1240.8 1655.7,1241.7 1657.9,1241.8 1660,1241.5 1662.2,1241.2 1664.4,1241.1 1666.7,1241.8 1668.9,1241.2 1671.1,1241.1 1673.3,1241.6 1675.6,1241.8 1677.8,1241 1680,1241.8 1682.2,1241.4 1684.4,1241.4 1686.7,1241.8 1688.9,1241.6 1691.1,1241.8 1693.3,1241 1695.6,1241.3 1697.8,1241.8 1700,1241.5 1702.2,1241.8 1704.4,1241.5 1706.7,1241.1 1708.9,1241 1711.1,1241.7 1713.3,1241.1 1715.6,1241.8 1717.8,1241.8 1720,1241.8 1722.2,1241.2 1724.5,1241.3 1726.8,1241.8 1729,1241.8 1731.2,1241.8 1733.5,1241.3 1735.8,1240.9 1738,1241.5 1739.7,1240.5 1741.3,1240.7 1743,1239.5 1744.5,1238.1 1746,1237.5 1748,1237.1 1750,1237.3 1752,1237.4 1754,1237.8 1755.5,1238.8 1757,1240 1758.7,1240.3 1760.3,1241.8 1762,1241.5 1764.2,1240.9 1766.5,1240.7 1768.8,1241.8 1771,1241.8 1773.2,1241.8 1775.5,1241.6 1777.8,1241.8 1780,1241.8 1782.4,1241.8 1784.7,1241.3 1787.1,1241.8 1789.4,1241.8 1791.8,1241.8 1794.1,1241.8 1796.5,1241.3 1798.8,1241.4 1801.2,1241.2 1803.5,1240.9 1805.9,1241.8 1808.2,1241.3 1810.6,1241.8 1812.9,1240.8 1815.3,1241.8 1817.6,1241.8 1820,1241.6 1822.4,1241.8 1824.7,1241.8 1827.1,1241.8 1829.4,1241.8 1831.8,1240.8 1834.1,1241.8 1836.5,1241.1 1838.8,1241.4 1841.2,1241.8 1843.5,1241.8 1845.9,1241.6 1848.2,1241.8 1850.6,1241.8 1852.9,1241.6 1855.3,1241.4 1857.6,1241.8 1860,1241.9 1862.4,1241.8 1864.7,1241.8 1867.1,1241.6 1869.4,1241.3 1871.8,1241.8 1874.1,1241.8 1876.5,1241.2 1878.8,1241.8 1881.2,1241.8 1883.5,1241.8 1885.9,1241.8 1888.2,1240.8 1890.6,1241.8 1892.9,1241.8 1895.3,1240.8 1897.6,1241.2 1900,1241.6 1902.4,1241.2 1904.8,1241.7 1907.1,1241.5 1909.5,1241.6 1911.9,1241.8 1914.3,1240.8 1916.7,1240.9 1919,1241 1921.4,1241.1 1923.8,1241 1926.2,1241.8 1928.6,1241.8 1931,1241 1933.3,1241.8 1935.7,1241.5 1938.1,1241.5 1940.5,1241.6 1942.9,1241.8 1945.2,1241.8 1947.6,1241.6 1950,1241.9 1952.4,1241.3 1954.8,1241.6 1957.1,1241.2 1959.5,1241.8 1961.9,1241.8 1964.3,1241.6 1966.7,1241.1 1969,1241.2 1971.4,1241.6 1973.8,1241.8 1976.2,1241.8 1978.6,1241.6 1981,1241.8 1983.3,1241.8 1985.7,1241.6 1988.1,1241.5 1990.5,1241.7 1992.9,1241.8 1995.2,1241.6 1997.6,1241.8 2000,1241.7 2002.4,1241.6 2004.8,1241.3 2007.1,1241.8 2009.5,1241.8 2011.9,1241 2014.3,1241.7 2016.7,1241.7 2019,1241.8 2021.4,1241.8 2023.8,1241.6 2026.2,1241.8 2028.6,1241.8 2031,1241.5 2033.3,1241.8 2035.7,1241.2 2038.1,1241.8 2040.5,1241.8 2042.9,1241.8 2045.2,1241.8 2047.6,1241.8 2050,1242 2052.4,1241.8 2054.8,1241.8 2057.1,1241.3 2059.5,1241.8 2061.9,1241.1 2064.3,1241.3 2066.7,1241.8 2069,1241.1 2071.4,1241.2 2073.8,1241.2 2076.2,1241.8 2078.6,1241.3 2081,1241 2083.3,1241.8 2085.7,1241.2 2088.1,1241.8 2090.5,1241.8 2092.9,1241.8 2095.2,1241.8 2097.6,1241.8 2100,1241.8" fill="none" stroke-linejoin="round" stroke="#0a0a0a" stroke-width="1.45"/>
<g class="axis">
<line x1="1151" y1="1243.5" x2="2180.8" y2="1243.5" stroke="#5a5a5a" stroke-width="2.6"/>
</g>
</g>
<g class="frame">
<line x1="1151" y1="703.7" x2="2180.8" y2="703.7" stroke="#555" stroke-width="1.8"/>
<line x1="1152.5" y1="702.8" x2="1152.5" y2="1244.8" stroke="#262626" stroke-width="3.0"/>
<line x1="1150.8" y1="1244.8" x2="1150.8" y2="1294.5" stroke="#9a9a9a" stroke-width="2.2"/>
</g>
<g class="ticks"><path d="M1160.6 1243.5V1249.5M1170.2 1243.5V1249.5M1179.7 1243.5V1249.5M1198.8 1243.5V1249.5M1208.4 1243.5V1249.5M1217.9 1243.5V1249.5M1227.5 1243.5V1249.5M1246.6 1243.5V1249.5M1256.2 1243.5V1249.5M1265.7 1243.5V1249.5M1275.3 1243.5V1249.5M1294.4 1243.5V1249.5M1303.9 1243.5V1249.5M1313.5 1243.5V1249.5M1323 1243.5V1249.5M1342.2 1243.5V1249.5M1351.7 1243.5V1249.5M1361.3 1243.5V1249.5M1370.8 1243.5V1249.5M1389.9 1243.5V1249.5M1399.5 1243.5V1249.5M1409 1243.5V1249.5M1418.6 1243.5V1249.5M1437.7 1243.5V1249.5M1447.3 1243.5V1249.5M1456.8 1243.5V1249.5M1466.4 1243.5V1249.5M1485.5 1243.5V1249.5M1495 1243.5V1249.5M1504.6 1243.5V1249.5M1514.1 1243.5V1249.5M1533.3 1243.5V1249.5M1542.8 1243.5V1249.5M1552.4 1243.5V1249.5M1561.9 1243.5V1249.5M1581 1243.5V1249.5M1590.6 1243.5V1249.5M1600.1 1243.5V1249.5M1609.7 1243.5V1249.5M1628.8 1243.5V1249.5M1638.4 1243.5V1249.5M1647.9 1243.5V1249.5M1657.5 1243.5V1249.5M1676.6 1243.5V1249.5M1686.1 1243.5V1249.5M1695.7 1243.5V1249.5M1705.2 1243.5V1249.5M1724.4 1243.5V1249.5M1733.9 1243.5V1249.5M1743.5 1243.5V1249.5M1753 1243.5V1249.5M1772.1 1243.5V1249.5M1781.7 1243.5V1249.5M1791.2 1243.5V1249.5M1800.8 1243.5V1249.5M1819.9 1243.5V1249.5M1829.5 1243.5V1249.5M1839 1243.5V1249.5M1848.6 1243.5V1249.5M1867.7 1243.5V1249.5M1877.2 1243.5V1249.5M1886.8 1243.5V1249.5M1896.3 1243.5V1249.5M1915.5 1243.5V1249.5M1925 1243.5V1249.5M1934.6 1243.5V1249.5M1944.1 1243.5V1249.5M1963.2 1243.5V1249.5M1972.8 1243.5V1249.5M1982.3 1243.5V1249.5M1991.9 1243.5V1249.5M2011 1243.5V1249.5M2020.6 1243.5V1249.5M2030.1 1243.5V1249.5M2039.7 1243.5V1249.5M2058.8 1243.5V1249.5M2068.3 1243.5V1249.5M2077.9 1243.5V1249.5M2087.4 1243.5V1249.5M2106.6 1243.5V1249.5M2116.1 1243.5V1249.5M2125.7 1243.5V1249.5M2135.2 1243.5V1249.5M2154.3 1243.5V1249.5M2163.9 1243.5V1249.5M2173.4 1243.5V1249.5" stroke="#6a6a6a" stroke-width="1.2" fill="none"/><path d="M1189.3 1243.5V1251M1284.8 1243.5V1251M1380.4 1243.5V1251M1475.9 1243.5V1251M1571.5 1243.5V1251M1667 1243.5V1251M1762.6 1243.5V1251M1858.1 1243.5V1251M1953.7 1243.5V1251M2049.2 1243.5V1251M2144.8 1243.5V1251" stroke="#444" stroke-width="1.2" fill="none"/><path d="M1237 1243.5V1255M1332.6 1243.5V1255M1428.2 1243.5V1255M1523.7 1243.5V1255M1619.2 1243.5V1255M1714.8 1243.5V1255M1810.3 1243.5V1255M1905.9 1243.5V1255M2001.5 1243.5V1255M2097 1243.5V1255" stroke="#555" stroke-width="1.5" fill="none"/></g>
<polyline points="1154.3,1221 1154.3,1238" fill="none" stroke-linejoin="round" stroke="#000" stroke-opacity="0.7" stroke-width="1.6"/>
<polyline points="1155.5,1232 1156.5,1230 1158,1227.6" fill="none" stroke-linejoin="round" stroke="#4e4e4e" stroke-width="1.2"/>
<polyline points="1158,1227.6 1158,1193.7" fill="none" stroke-linejoin="round" stroke="#000" stroke-opacity="0.7" stroke-width="0.9"/>
<polyline points="1159.9,1193.7 1160,1104.7" fill="none" stroke-linejoin="round" stroke="#8c8c8c" stroke-width="1.4"/>
<polyline points="1161.7,1104.7 1161.7,960" fill="none" stroke-linejoin="round" stroke="#8c8c8c" stroke-width="1.4"/>
<polyline points="1164.6,960 1164.9,815" fill="none" stroke-linejoin="round" stroke="#9c9c9c" stroke-width="1.4"/>
<polyline points="1166.6,780.4 1166.6,815" fill="none" stroke-linejoin="round" stroke="#4e4e4e" stroke-width="3.2"/>
<polyline points="1168,815 1168,857" fill="none" stroke-linejoin="round" stroke="#4e4e4e" stroke-width="1.8"/>
<polyline points="1169.4,857 1169.5,1013.7" fill="none" stroke-linejoin="round" stroke="#8c8c8c" stroke-width="1.4"/>
<polyline points="1171.3,1013.7 1171.3,1141.8" fill="none" stroke-linejoin="round" stroke="#8c8c8c" stroke-width="1.4"/>
<polyline points="1172.3,1141.8 1172.3,1205.7" fill="none" stroke-linejoin="round" stroke="#000" stroke-opacity="0.7" stroke-width="0.9"/>
<polyline points="1172.8,1205.7 1174.9,1227.6 1177.5,1235.6 1180.9,1229.6 1182.9,1209.7 1184.9,1193.7 1186.9,1177.7 1188.9,1151.8 1190.3,1135" fill="none" stroke-linejoin="round" stroke="#000" stroke-opacity="0.4" stroke-width="0.9"/>
<polyline points="1190.9,1132.8 1190.9,1149.8" fill="none" stroke-linejoin="round" stroke="#000" stroke-opacity="0.7" stroke-width="1.9"/>
<polyline points="1192,1150 1193.5,1159.8 1194.3,1191.7 1196.9,1219.6 1199.9,1233.6 1202.9,1240.6" fill="none" stroke-linejoin="round" stroke="#000" stroke-opacity="0.4" stroke-width="0.9"/>
<polyline class="spectrum-core" points="1202.9,1240.6 1205.2,1240.1 1207.5,1240.7 1209.8,1240.6 1211.5,1240 1213.3,1240.1 1215,1239.5 1217.3,1239.1 1219.5,1237.5 1221.8,1237.6 1223.4,1237.9 1225,1240 1226.4,1241.4 1227.8,1241.6 1229.9,1240.9 1232,1241 1233.9,1240.3 1235.8,1240.6 1237.8,1235.6 1239.7,1237.2 1241.5,1237 1243.7,1237.7 1245.8,1238.6 1247.8,1237.7 1249.8,1235.6 1251.9,1236.3 1254,1237 1255.9,1237.8 1257.8,1237.4 1259.7,1238.6 1261.8,1238.3 1264,1237.5 1265.7,1237.8 1267.3,1236.9 1269,1236.5 1271.3,1236 1273.7,1234.6 1275.8,1235.9 1278,1236.5 1279.7,1236 1281.3,1237.6 1283,1237.5 1285.2,1238 1287.5,1237.9 1289.7,1238.6 1291.8,1237.4 1293.9,1238.5 1296,1237.5 1297.9,1237.2 1299.8,1237.4 1301.7,1237.5 1303.6,1236.6 1305,1235.9 1306.5,1234.5 1308,1234.3 1309.6,1232.6 1311.3,1233.6 1313,1235 1315.3,1236.8 1317.6,1237.6 1319.4,1237.6 1321.2,1238.7 1323,1238 1325.2,1238.9 1327.4,1237.7 1329.6,1238.6 1331.4,1237.6 1333.2,1237.4 1335,1237.5 1337.2,1238 1339.4,1236.8 1341.6,1236.6 1343.4,1237.1 1345.2,1236.8 1347,1237.5 1349.2,1237.9 1351.3,1238 1353.5,1238.6 1355.2,1237.8 1357,1237.5 1359.2,1237.2 1361.5,1236.6 1363.8,1236 1366,1235 1368.2,1235.3 1370.3,1234.4 1372.5,1233.6 1373.8,1235.6 1375,1236 1376.2,1237.4 1377.5,1237.6 1379.5,1235 1381.5,1232.6 1383.3,1233.8 1385.2,1233.5 1387,1233.5 1389.2,1233.3 1391.3,1234.9 1393.5,1234.6 1394.8,1236.9 1396,1237.5 1397.8,1239.3 1399.5,1239.6 1401.2,1238.9 1403,1238 1405.2,1237.7 1407.4,1236.6 1408.9,1233.6 1410.4,1231.6 1411.7,1233.4 1413,1234 1414.2,1235.4 1415.4,1236.6 1416.7,1235.4 1418,1235 1419.7,1233.5 1421.4,1233.6 1422.7,1234.9 1424,1235 1425.7,1234.7 1427.3,1232.7 1428.7,1232.6 1430,1234 1431.3,1237.5 1432.7,1240 1434.3,1239.3 1436,1239 1438,1237.1 1440,1236.5 1442.3,1235.8 1444.7,1236.3 1447,1235.5 1449,1236.3 1451,1234.9 1453,1236.1 1455,1236 1457.3,1235.7 1459.7,1237.4 1462,1237.5 1464,1237.4 1466,1238.7 1468,1239.1 1470,1238.5 1472,1238.4 1474,1239.1 1476,1237.8 1478,1238 1480.3,1237.6 1482.7,1238.8 1485,1239 1486.7,1237.7 1488.3,1237.5 1490,1237.5 1492.3,1237.7 1494.7,1238.4 1497,1238.5 1499.3,1237.2 1501.7,1236.3 1504,1236.5 1506,1236.8 1508,1235.5 1510,1235.5 1512,1236.8 1514,1237.2 1516,1237 1518,1237.8 1520,1238.9 1522,1240 1524,1239.9 1526,1240 1528,1239.8 1530,1239.5 1532.3,1239.4 1534.7,1239.4 1537,1239 1538.8,1239.3 1540.7,1238 1542.5,1237.5 1544.8,1238.6 1547,1240 1549,1238.9 1551,1237 1552.7,1236.9 1554.3,1237.3 1556,1238 1557.7,1239.5 1559.3,1239.4 1561,1240 1563,1239.1 1565,1238 1566.8,1235.4 1568.5,1234.5 1570.6,1233.4 1572.7,1232.7 1574.6,1233.7 1576.5,1234.5 1578.2,1235.1 1580,1237.5 1581.8,1239 1583.5,1240 1585.7,1240.6 1587.8,1239.9 1590,1241 1592,1241.4 1594,1241.2 1596,1241.7 1598,1241.5 1600.3,1241.1 1602.7,1241.5 1605,1241 1607,1240.2 1609,1238.5 1610.5,1236.6 1612,1236.5 1613.7,1235.7 1615.4,1236.4 1617.2,1237.8 1619,1238.5 1620.8,1240.3 1622.5,1240.5 1624.2,1239.1 1626,1238.5 1627.5,1239.2 1629,1240 1631,1240.9 1633,1241.5 1635,1241.2 1637,1241.4 1639,1241.3 1641,1241.5 1643,1241.8 1645,1241.8 1647.1,1241.4 1649.3,1241.5 1651.4,1241.8 1653.6,1240.8 1655.7,1241.7 1657.9,1241.8 1660,1241.5 1662.2,1241.2 1664.4,1241.1 1666.7,1241.8 1668.9,1241.2 1671.1,1241.1 1673.3,1241.6 1675.6,1241.8 1677.8,1241 1680,1241.8 1682.2,1241.4 1684.4,1241.4 1686.7,1241.8 1688.9,1241.6 1691.1,1241.8 1693.3,1241 1695.6,1241.3 1697.8,1241.8 1700,1241.5 1702.2,1241.8 1704.4,1241.5 1706.7,1241.1 1708.9,1241 1711.1,1241.7 1713.3,1241.1 1715.6,1241.8 1717.8,1241.8 1720,1241.8 1722.2,1241.2 1724.5,1241.3 1726.8,1241.8 1729,1241.8 1731.2,1241.8 1733.5,1241.3 1735.8,1240.9 1738,1241.5 1739.7,1240.5 1741.3,1240.7 1743,1239.5 1744.5,1238.1 1746,1237.5 1748,1237.1 1750,1237.3 1752,1237.4 1754,1237.8 1755.5,1238.8 1757,1240 1758.7,1240.3 1760.3,1241.8 1762,1241.5 1764.2,1240.9 1766.5,1240.7 1768.8,1241.8 1771,1241.8 1773.2,1241.8 1775.5,1241.6 1777.8,1241.8 1780,1241.8 1782.4,1241.8 1784.7,1241.3 1787.1,1241.8 1789.4,1241.8 1791.8,1241.8 1794.1,1241.8 1796.5,1241.3 1798.8,1241.4 1801.2,1241.2 1803.5,1240.9 1805.9,1241.8 1808.2,1241.3 1810.6,1241.8 1812.9,1240.8 1815.3,1241.8 1817.6,1241.8 1820,1241.6 1822.4,1241.8 1824.7,1241.8 1827.1,1241.8 1829.4,1241.8 1831.8,1240.8 1834.1,1241.8 1836.5,1241.1 1838.8,1241.4 1841.2,1241.8 1843.5,1241.8 1845.9,1241.6 1848.2,1241.8 1850.6,1241.8 1852.9,1241.6 1855.3,1241.4 1857.6,1241.8 1860,1241.9 1862.4,1241.8 1864.7,1241.8 1867.1,1241.6 1869.4,1241.3 1871.8,1241.8 1874.1,1241.8 1876.5,1241.2 1878.8,1241.8 1881.2,1241.8 1883.5,1241.8 1885.9,1241.8 1888.2,1240.8 1890.6,1241.8 1892.9,1241.8 1895.3,1240.8 1897.6,1241.2 1900,1241.6 1902.4,1241.2 1904.8,1241.7 1907.1,1241.5 1909.5,1241.6 1911.9,1241.8 1914.3,1240.8 1916.7,1240.9 1919,1241 1921.4,1241.1 1923.8,1241 1926.2,1241.8 1928.6,1241.8 1931,1241 1933.3,1241.8 1935.7,1241.5 1938.1,1241.5 1940.5,1241.6 1942.9,1241.8 1945.2,1241.8 1947.6,1241.6 1950,1241.9 1952.4,1241.3 1954.8,1241.6 1957.1,1241.2 1959.5,1241.8 1961.9,1241.8 1964.3,1241.6 1966.7,1241.1 1969,1241.2 1971.4,1241.6 1973.8,1241.8 1976.2,1241.8 1978.6,1241.6 1981,1241.8 1983.3,1241.8 1985.7,1241.6 1988.1,1241.5 1990.5,1241.7 1992.9,1241.8 1995.2,1241.6 1997.6,1241.8 2000,1241.7 2002.4,1241.6 2004.8,1241.3 2007.1,1241.8 2009.5,1241.8 2011.9,1241 2014.3,1241.7 2016.7,1241.7 2019,1241.8 2021.4,1241.8 2023.8,1241.6 2026.2,1241.8 2028.6,1241.8 2031,1241.5 2033.3,1241.8 2035.7,1241.2 2038.1,1241.8 2040.5,1241.8 2042.9,1241.8 2045.2,1241.8 2047.6,1241.8 2050,1242 2052.4,1241.8 2054.8,1241.8 2057.1,1241.3 2059.5,1241.8 2061.9,1241.1 2064.3,1241.3 2066.7,1241.8 2069,1241.1 2071.4,1241.2 2073.8,1241.2 2076.2,1241.8 2078.6,1241.3 2081,1241 2083.3,1241.8 2085.7,1241.2 2088.1,1241.8 2090.5,1241.8 2092.9,1241.8 2095.2,1241.8 2097.6,1241.8 2100,1241.8" fill="none" stroke-linejoin="round" stroke="#000" stroke-opacity="0.7" stroke-width="0.9"/>
<line x1="1151" y1="1243.8" x2="2180.8" y2="1243.8" stroke="#222" stroke-width="1.0" stroke-opacity="0.8"/>
<g class="ticklabels" font-family='"Liberation Sans", "DejaVu Sans", sans-serif' font-size="14" fill="#1a1a1a" stroke="#1a1a1a" stroke-opacity="0.5" stroke-width="0.6" text-anchor="middle">
<text transform="translate(1235.5 1269.4) scale(1 1.15)">1</text>
<text transform="translate(1331 1269.4) scale(1 1.15)">2</text>
<text transform="translate(1426.6 1269.4) scale(1 1.15)">3</text>
<text transform="translate(1522.1 1269.4) scale(1 1.15)">4</text>
<text transform="translate(1617.7 1269.4) scale(1 1.15)">5</text>
<text transform="translate(1713.2 1269.4) scale(1 1.15)">6</text>
<text transform="translate(1808.8 1269.4) scale(1 1.15)">7</text>
<text transform="translate(1904.3 1269.4) scale(1 1.15)">8</text>
<text transform="translate(1999.8 1269.4) scale(1 1.15)">9</text>
<text transform="translate(2095.4 1269.4) scale(1 1.15)">10</text>
</g>
<g class="peaks" font-family='"Liberation Sans", "DejaVu Sans", sans-serif' font-size="14" text-anchor="middle" stroke-width="0.6" stroke-opacity="0.3">
<text transform="translate(1166.3 775) scale(1 1.12)" fill="#000" stroke="#000">C</text>
<text transform="translate(1190.3 1121.8) scale(1 1.12)" fill="#666" stroke="#666">O</text>
<text transform="translate(1184.3 1144.8) scale(1 1.12)" fill="#333" stroke="#333">Ti</text>
<text transform="translate(1409 1227.2) scale(1 1.12)" fill="#777" stroke="#777">Ag</text>
<text transform="translate(1571.3 1227.1) scale(1 1.12)" fill="#999" stroke="#999">Ti</text>
<text transform="translate(1612.4 1231.1) scale(1 1.12)" fill="#333" stroke="#333">Ti</text>
</g>
<text class="xtitle" transform="translate(1667.7 1287.5) scale(1 1.0)" font-family='"Liberation Serif", "DejaVu Serif", serif' font-size="21.7" fill="#2a2a2a" stroke="#2a2a2a" stroke-opacity="0.35" stroke-width="0.5" text-anchor="middle">Energy (keV)</text>
<text class="ytitle" transform="translate(1138.4 998.3) rotate(-90)" font-family='"Liberation Serif", "DejaVu Serif", serif' font-size="21.7" fill="#2a2a2a" stroke="#2a2a2a" stroke-opacity="0.35" stroke-width="0.5" text-anchor="middle">Intensity (a.u.)</text>
<text class="letter" x="2117.2" y="776.8" font-family='"Liberation Sans", "DejaVu Sans", sans-serif' font-size="75" font-weight="700" fill="#0a0a0a" text-anchor="middle">(d)</text>
<g class="table">
<line x1="1361.6" y1="815" x2="2057.8" y2="815" stroke="#333" stroke-width="1.3"/>
<line x1="1361.6" y1="877" x2="2057.8" y2="877" stroke="#1a1a1a" stroke-width="1.6"/>
<line x1="1361.6" y1="1119.2" x2="2057.8" y2="1119.2" stroke="#000" stroke-width="2.8"/>
<g font-family='"Liberation Serif", "DejaVu Serif", serif' font-size="30" fill="#161616" stroke="#161616" stroke-width="0.4" stroke-opacity="0.55" text-anchor="middle">
<text x="1430.7" y="856.4" letter-spacing="0.45">Element</text>
<text x="1641.6" y="856.4" letter-spacing="0.27">Weight percent (%)</text>
<text x="1921.7" y="856.4" letter-spacing="0.32">Atom percent (%)</text>
<text x="1430.5" y="918.6">C K</text>
<text x="1641.5" y="918.6">60.86</text>
<text x="1921.5" y="918.6">67.81</text>
<text x="1430.5" y="980.5">O K</text>
<text x="1641.5" y="980.5">38.24</text>
<text x="1921.5" y="980.5">31.98</text>
<text x="1430.5" y="1039.3">Ti K</text>
<text x="1641.5" y="1039.3">0.59</text>
<text x="1921.5" y="1039.3">0.17</text>
<text x="1430.5" y="1099.3">Ag L</text>
<text x="1641.5" y="1099.3">0.31</text>
<text x="1921.5" y="1099.3">0.04</text>
</g></g>
</g>
</svg>
</body>
</html>
